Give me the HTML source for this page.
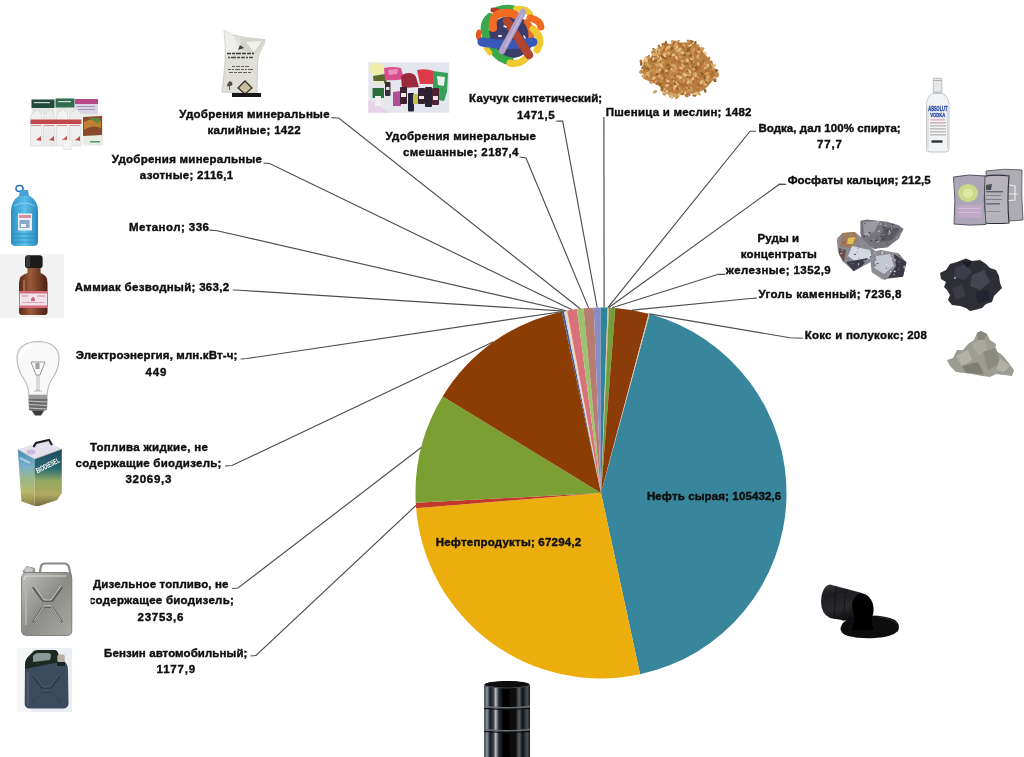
<!DOCTYPE html>
<html><head><meta charset="utf-8"><style>
html,body{margin:0;padding:0;background:#fff;width:1024px;height:757px;overflow:hidden}
svg{display:block}
text{font-family:"Liberation Sans",sans-serif;font-weight:bold;font-size:11.5px;fill:#0e0e0e;stroke:#0e0e0e;stroke-width:0.4px}
</style></head><body>
<svg width="1024" height="757" viewBox="0 0 1024 757">
<defs><filter id="tnone" x="0" y="0" width="1" height="1"><feOffset dx="0" dy="0"/></filter></defs>
<rect width="1024" height="757" fill="#fff"/>
<g><path d="M601.0,493.0 L649.64,313.99 A185.5,185.5 0 0 1 640.04,674.35 Z" fill="#37869C"/><path d="M601.0,493.0 L640.04,674.35 A185.5,185.5 0 0 1 416.13,508.25 Z" fill="#ECAE0C"/><path d="M601.0,493.0 L416.13,508.25 A185.5,185.5 0 0 1 415.76,502.74 Z" fill="#C0392B"/><path d="M601.0,493.0 L415.76,502.74 A185.5,185.5 0 0 1 442.64,396.40 Z" fill="#7B9F32"/><path d="M601.0,493.0 L442.64,396.40 A185.5,185.5 0 0 1 561.84,311.68 Z" fill="#8B3D03"/><path d="M601.0,493.0 L561.84,311.68 A185.5,185.5 0 0 1 563.90,311.25 Z" fill="#4A5A8A"/><path d="M601.0,493.0 L563.90,311.25 A185.5,185.5 0 0 1 565.57,310.91 Z" fill="#C8D4E0"/><path d="M601.0,493.0 L565.57,310.91 A185.5,185.5 0 0 1 567.12,310.62 Z" fill="#F4D6A8"/><path d="M601.0,493.0 L567.12,310.62 A185.5,185.5 0 0 1 576.92,309.07 Z" fill="#D9707A"/><path d="M601.0,493.0 L576.92,309.07 A185.5,185.5 0 0 1 583.54,308.32 Z" fill="#9BC26F"/><path d="M601.0,493.0 L583.54,308.32 A185.5,185.5 0 0 1 593.77,307.64 Z" fill="#B97C70"/><path d="M601.0,493.0 L593.77,307.64 A185.5,185.5 0 0 1 600.66,307.50 Z" fill="#8A8CC4"/><path d="M601.0,493.0 L600.66,307.50 A185.5,185.5 0 0 1 607.61,307.62 Z" fill="#2E8599"/><path d="M601.0,493.0 L607.61,307.62 A185.5,185.5 0 0 1 607.97,307.63 Z" fill="#E8A860"/><path d="M601.0,493.0 L607.97,307.63 A185.5,185.5 0 0 1 608.97,307.67 Z" fill="#D8B0A0"/><path d="M601.0,493.0 L608.97,307.67 A185.5,185.5 0 0 1 615.30,308.05 Z" fill="#749E3C"/><path d="M601.0,493.0 L615.30,308.05 A185.5,185.5 0 0 1 648.69,313.74 Z" fill="#8B3C08"/><path d="M601.0,493.0 L648.69,313.74 A185.5,185.5 0 0 1 649.64,313.99 Z" fill="#D0C0B0"/></g>
<g fill="none" stroke="#4e4e4e" stroke-width="1.15"><polyline points="331.5,117.6 338.7,118.0 580.2,308.7"/><polyline points="263.5,163.0 269.6,163.5 572.0,309.8"/><polyline points="209.4,230.1 216.0,230.5 566.3,310.8"/><polyline points="232.8,290.0 240.0,290.3 564.7,311.1"/><polyline points="240.6,359.0 247.0,358.5 562.9,311.5"/><polyline points="225.0,466.0 232.0,465.5 493.5,341.8"/><polyline points="232.0,588.5 238.0,588.0 421.2,447.5"/><polyline points="250.4,656.0 256.0,655.5 415.9,505.5"/><polyline points="519.4,157.0 526.0,158.0 588.6,307.9"/><polyline points="556.3,121.1 562.7,121.1 597.2,307.5"/><polyline points="603.9,117.0 604.1,307.5"/><polyline points="756.0,131.2 750.0,131.2 607.8,307.6"/><polyline points="786.1,184.4 779.5,184.2 608.5,307.7"/><polyline points="724.9,274.3 718.3,274.3 612.1,307.8"/><polyline points="756.9,298.1 750.5,298.5 632.1,310.1"/><polyline points="802.9,338.2 790.0,337.7 649.2,313.9"/></g>
<g style="will-change:transform" filter="url(#tnone)"><text x="179.3" y="117.8" textLength="150.3" lengthAdjust="spacing">Удобрения минеральные</text><text x="207.5" y="134.0" textLength="93.1" lengthAdjust="spacing">калийные; 1422</text><text x="111.8" y="163.0" textLength="150.2" lengthAdjust="spacing">Удобрения минеральные</text><text x="139.8" y="179.1" textLength="93.4" lengthAdjust="spacing">азотные; 2116,1</text><text x="129.0" y="231.2" textLength="79.9" lengthAdjust="spacing">Метанол; 336</text><text x="74.7" y="291.2" textLength="154.5" lengthAdjust="spacing">Аммиак безводный; 363,2</text><text x="75.8" y="359.4" textLength="161.5" lengthAdjust="spacing">Электроэнергия, млн.кВт-ч;</text><text x="145.5" y="375.6" textLength="21.0" lengthAdjust="spacing">449</text><text x="89.9" y="450.6" textLength="118.0" lengthAdjust="spacing">Топлива жидкие, не</text><text x="75.5" y="466.8" textLength="145.9" lengthAdjust="spacing">содержащие биодизель;</text><text x="125.5" y="483.0" textLength="45.8" lengthAdjust="spacing">32069,3</text><text x="92.9" y="588.4" textLength="135.6" lengthAdjust="spacing">Дизельное топливо, не</text><text x="88.9" y="604.4" textLength="144.9" lengthAdjust="spacing">содержащее биодизель;</text><text x="137.6" y="620.6" textLength="45.8" lengthAdjust="spacing">23753,6</text><text x="104.1" y="656.7" textLength="143.3" lengthAdjust="spacing">Бензин автомобильный;</text><text x="156.6" y="672.9" textLength="38.6" lengthAdjust="spacing">1177,9</text><text x="385.4" y="140.4" textLength="150.4" lengthAdjust="spacing">Удобрения минеральные</text><text x="402.9" y="156.4" textLength="115.5" lengthAdjust="spacing">смешанные; 2187,4</text><text x="469.1" y="102.3" textLength="133.1" lengthAdjust="spacing">Каучук синтетический;</text><text x="516.9" y="118.6" textLength="37.7" lengthAdjust="spacing">1471,5</text><text x="605.7" y="116.4" textLength="145.8" lengthAdjust="spacing">Пшеница и меслин; 1482</text><text x="758.4" y="131.5" textLength="142.3" lengthAdjust="spacing">Водка, дал 100% спирта;</text><text x="816.9" y="147.7" textLength="25.1" lengthAdjust="spacing">77,7</text><text x="787.7" y="184.2" textLength="143.0" lengthAdjust="spacing">Фосфаты кальция; 212,5</text><text x="757.5" y="241.7" textLength="41.7" lengthAdjust="spacing">Руды и</text><text x="740.7" y="257.7" textLength="76.2" lengthAdjust="spacing">концентраты</text><text x="725.8" y="274.2" textLength="104.9" lengthAdjust="spacing">железные; 1352,9</text><text x="758.5" y="298.3" textLength="142.9" lengthAdjust="spacing">Уголь каменный; 7236,8</text><text x="804.7" y="338.7" textLength="122.2" lengthAdjust="spacing">Кокс и полукокс; 208</text><text x="646.9" y="499.6" textLength="134.3" lengthAdjust="spacing" fill="#0c1620">Нефть сырая; 105432,6</text><text x="435.7" y="545.7" textLength="145.5" lengthAdjust="spacing" fill="#1c1004">Нефтепродукты; 67294,2</text></g>
<defs>
<filter id="blur1" x="-10%" y="-10%" width="120%" height="120%"><feGaussianBlur stdDeviation="0.55"/></filter>
<linearGradient id="gBottleW" x1="0" x2="1"><stop offset="0" stop-color="#c8c8c8"/><stop offset="0.35" stop-color="#f4f4f4"/><stop offset="1" stop-color="#d0d0d0"/></linearGradient>
<linearGradient id="gBarrel" x1="0" x2="1"><stop offset="0" stop-color="#2a3038"/><stop offset="0.06" stop-color="#8a98a8"/><stop offset="0.13" stop-color="#1a1c1e"/><stop offset="0.2" stop-color="#3a4046"/><stop offset="0.25" stop-color="#b8c0c8"/><stop offset="0.32" stop-color="#2a2e32"/><stop offset="0.42" stop-color="#050505"/><stop offset="0.68" stop-color="#080808"/><stop offset="0.76" stop-color="#5a6068"/><stop offset="0.84" stop-color="#101214"/><stop offset="0.94" stop-color="#4a5058"/><stop offset="1" stop-color="#1a1a1a"/></linearGradient>
<linearGradient id="gSteel" x1="0" x2="1" y1="0" y2="1"><stop offset="0" stop-color="#c0c0bc"/><stop offset="0.5" stop-color="#8c8c88"/><stop offset="1" stop-color="#a8a8a4"/></linearGradient>
<linearGradient id="gBio" x1="0" x2="0" y1="0" y2="1"><stop offset="0" stop-color="#2f6f8f"/><stop offset="0.45" stop-color="#5a9aa8"/><stop offset="0.7" stop-color="#a8a860"/><stop offset="1" stop-color="#807040"/></linearGradient>
<radialGradient id="gWheat" cx="0.5" cy="0.5" r="0.5"><stop offset="0" stop-color="#a8722e"/><stop offset="0.7" stop-color="#c08a44"/><stop offset="1" stop-color="#d4a060"/></radialGradient>
<linearGradient id="gBlue" x1="0" x2="1"><stop offset="0" stop-color="#2a90c8"/><stop offset="0.5" stop-color="#5cc0e8"/><stop offset="1" stop-color="#2888c0"/></linearGradient>
<linearGradient id="gAmm" x1="0" x2="1"><stop offset="0" stop-color="#5a2a18"/><stop offset="0.4" stop-color="#9a5a38"/><stop offset="1" stop-color="#4a2010"/></linearGradient>
</defs>

<!-- 1 fertilizer bottles (азотные) -->
<g id="img-fert" filter="url(#blur1)">
<rect x="31.5" y="99.5" width="23" height="15" fill="#e4e6e4"/>
<rect x="31.5" y="99.5" width="23" height="8.5" fill="#244c3c"/>
<rect x="34" y="102" width="16" height="1.2" fill="#c8d0c8"/>
<rect x="55.5" y="98.5" width="19" height="16" fill="#e8eae8"/>
<rect x="55.5" y="98.5" width="19" height="9" fill="#2f6c50"/>
<rect x="58" y="101" width="13" height="1.2" fill="#d0dcd0"/>
<rect x="75" y="99" width="23" height="15" fill="#dcd4e4"/>
<rect x="75" y="99" width="23" height="5" fill="#b84a88"/>
<rect x="77" y="106" width="18" height="1" fill="#9a9ab8"/>
<rect x="77" y="109" width="18" height="1" fill="#9a9ab8"/>
<path d="M30.5,146 L30.5,118 Q30.5,113 35,112 L35,110 L39,110 L39,112 Q42,113 42,118 L42,146 Z" fill="#f0f0f0" stroke="#c8c8c8" stroke-width="0.5"/>
<path d="M43.5,146 L43.5,118 Q43.5,113 48,112 L48,110 L52,110 L52,112 Q55,113 55,118 L55,146 Z" fill="#ececec" stroke="#c8c8c8" stroke-width="0.5"/>
<path d="M56.5,146 L56.5,117 Q56.5,112 61,111 L61,109 L65,109 L65,111 Q68,112 68,117 L68,146 Z" fill="#f2f2f2" stroke="#c8c8c8" stroke-width="0.5"/>
<path d="M69.5,146 L69.5,117 Q69.5,112 74,111 L74,109 L78,109 L78,111 Q81,112 81,117 L81,146 Z" fill="#eeeeee" stroke="#c8c8c8" stroke-width="0.5"/>
<rect x="30.5" y="119.5" width="51" height="4.5" fill="#c04850"/>
<rect x="31" y="125" width="10" height="1" fill="#d89090"/>
<rect x="44" y="125" width="10" height="1" fill="#d89090"/>
<rect x="57" y="125" width="10" height="1" fill="#d89090"/>
<rect x="70" y="125" width="10" height="1" fill="#d89090"/>
<path d="M36,140 L41,136 L41,141 Z M49,140 L54,136 L54,141 Z M62,140 L67,136 L67,141 Z M75,140 L80,136 L80,141 Z" fill="#c05050"/>
<path d="M62.5,140 L72.5,140 L71.5,149.5 L63.5,149.5 Z" fill="#f4f4f4" stroke="#d8d8d8" stroke-width="0.5"/>
<rect x="82.5" y="114" width="20.5" height="31.5" fill="#e8ece4"/>
<path d="M83,117 L102,116 L102,135 L83,136 Z" fill="#8a4a2a"/>
<path d="M84,122 Q92,117 101,121 L101,128 Q92,124 84,130 Z" fill="#c08030"/>
<path d="M88,118 L100,118 L99,124 Z" fill="#5a8a3a"/>
<rect x="90" y="141" width="10" height="1.5" fill="#4a9a6a"/>
</g>
<!-- 2 sack калийные -->
<g id="img-sack" filter="url(#blur1)">
<path d="M224,30 Q229,33 233,35 Q246,38 265,39.6 Q265,44 260,51.7 Q257,58 257.5,70 L257,92.5 Q240,93.5 222,92 Q224,75 225,62 Q226,45 224,30 Z" fill="#e0e0d8" stroke="#b8b8b0" stroke-width="0.6"/>
<path d="M224,30 Q229,33 233,35 L240,50 Q232,52 226,55 Q226,42 224,30 Z" fill="#eeeeea"/>
<path d="M240,38 Q252,38.5 265,39.6 Q262,46 256,54 Q248,52 242,50 Z" fill="#d4d4cc"/>
<path d="M246,42 L262,41 L254,52 Z" fill="#f0f0ec"/>
<path d="M240,45 L244,48 L238,50 Z" fill="#404040"/>
<path d="M227,53.5 L254,53.5" stroke="#3a3a3a" stroke-width="1.6" stroke-dasharray="4 1 3 1 5 1 4 1"/>
<path d="M228,57.5 L253,57.5" stroke="#4a4a4a" stroke-width="1.4" stroke-dasharray="2 1 5 1 3 1 4 1"/>
<path d="M232,66.5 L250,66.5" stroke="#606060" stroke-width="1" stroke-dasharray="3 1 4 1"/>
<path d="M228,69.5 L253,69.5" stroke="#606060" stroke-width="1" stroke-dasharray="3 1 2 1 5 1"/>
<path d="M229,72.5 L252,72.5" stroke="#606060" stroke-width="1" stroke-dasharray="4 1 3 1 4 1"/>
<path d="M227.5,86 Q228,82 230,81.5 Q232.5,82 232,85 Z M229.5,85 L229.5,90" stroke="#404040" stroke-width="0.8" fill="#505050"/>
<path d="M238,88 L245,81 L252,88 L245,94 Z" fill="#c8c0a0" stroke="#3a3020" stroke-width="1.3"/>
<rect x="232" y="93" width="29" height="4" fill="#141414"/>
</g>
<!-- 3 mixed fertilizers photo -->
<g id="img-mixed" filter="url(#blur1)">
<rect x="368.3" y="62.3" width="81" height="50.5" fill="#e4e6ee"/>
<path d="M368.3,100 Q378,104 390,112.8 L368.3,112.8 Z" fill="#e8d4e8"/>
<ellipse cx="377" cy="69" rx="8" ry="6" fill="#eeeea8"/>
<path d="M373,76 L385,74 L387,83 L374,85 Z" fill="#5a6a2a"/>
<rect x="373" y="81" width="11" height="4" fill="#e8e8d0"/>
<rect x="372.5" y="88" width="11.5" height="10" fill="#2c6e3c"/>
<path d="M384,68 Q392,66 401,68 L404,79 Q394,81 385,80 Z" fill="#d8508e"/>
<path d="M388,70 L398,69 L397,74 L389,75 Z" fill="#e890b8"/>
<path d="M393,92 L401,91 L401,106 L393,106 Z" fill="#b05098"/>
<path d="M401,77 Q403,73 409,73 Q414,73 416,77 L419,87 L402,88 Z" fill="#9a2a3a"/>
<path d="M417,70 Q425,68 434,71 L434,84 L420,84 Z" fill="#dc3a48"/>
<path d="M433,71 L448,73 L447,92 L444,101 L433,99 Z" fill="#34a058"/>
<path d="M437,76 L445,77 L444,86 L438,85 Z" fill="#e8f0e8"/>
<rect x="385" y="82" width="5.5" height="14" rx="1" fill="#3a2a34"/>
<rect x="386" y="87" width="3.5" height="3" fill="#e8e0e0"/>
<rect x="375" y="96" width="6" height="10" fill="#f0f0f0"/>
<rect x="382" y="98" width="8" height="10" fill="#e8e8ea"/>
<rect x="400" y="87" width="7" height="17" rx="1" fill="#3a2030"/>
<rect x="401" y="93" width="5" height="4" fill="#f0e8e8"/>
<rect x="408" y="93" width="6" height="18.5" rx="1" fill="#22243a"/>
<rect x="413" y="94" width="6" height="10" rx="1" fill="#c8c048"/>
<rect x="418" y="88" width="7" height="16" rx="1" fill="#302030"/>
<rect x="419" y="96" width="5" height="3" fill="#ecece8"/>
<rect x="425" y="87" width="7" height="20" rx="1" fill="#2a2030"/>
<rect x="432" y="88" width="7" height="17" rx="1" fill="#502030"/>
<rect x="433" y="96" width="5" height="4" fill="#f0e0e8"/>
</g>
<!-- 4 rubber ball -->
<g id="img-ball" stroke-linecap="round" fill="none" filter="url(#blur1)">
<ellipse cx="511" cy="37" rx="23" ry="21" fill="#3a3e6a"/>
<path d="M527,22 Q533,30 531,40" stroke="#e86a28" stroke-width="6"/>
<path d="M497,9 Q506,6 514,8" stroke="#38a848" stroke-width="5"/>
<path d="M516,9 Q526,8 530,14" stroke="#f0c830" stroke-width="6"/>
<path d="M493,10 L498,11" stroke="#b03a28" stroke-width="5"/>
<path d="M486,36 Q482,24 490,17" stroke="#38a848" stroke-width="8"/>
<path d="M479,32 Q477,36 481,41" stroke="#e65a20" stroke-width="5"/>
<path d="M493,28 Q491,14 503,13 Q512,12 518,17" stroke="#f06a24" stroke-width="8"/>
<path d="M530,18 Q540,20 541,27" stroke="#f06a24" stroke-width="7"/>
<path d="M493,50 Q500,60 510,61" stroke="#38a848" stroke-width="8"/>
<path d="M486,48 L490,53" stroke="#f0c830" stroke-width="5"/>
<path d="M510,63 Q520,65 526,58" stroke="#f0c830" stroke-width="7"/>
<path d="M533,29 Q544,38 537,50" stroke="#f0c830" stroke-width="7"/>
<path d="M482,42 Q508,47 533,42" stroke="#3858b8" stroke-width="9"/>
<path d="M507,21 L529,55" stroke="#b04430" stroke-width="8.5"/>
<path d="M523,12 L502,51" stroke="#b0a0cc" stroke-width="6.5"/>
<path d="M522,15 L505,47" stroke="#c8bce0" stroke-width="1.2"/>
<path d="M504,26 L506,27" stroke="#f4f4f4" stroke-width="1.5"/>
<path d="M499,36 L501,36" stroke="#f4f4f4" stroke-width="2"/>
<path d="M524,36 L525,38" stroke="#f4f4f4" stroke-width="1.5"/>
</g>
<!-- 5 wheat -->
<g id="img-wheat" filter="url(#blur1)"><path d="M662.3,45.4 L675.8,42.8 L689.3,42.3 L698.2,45.4 L703.6,52.6 L709.8,59.8 L713.5,66.9 L715.7,75.0 L713.5,79.5 L709.0,84.9 L703.6,90.3 L693.7,93.8 L680.3,94.7 L673.1,97.4 L665.0,93.0 L657.9,84.9 L645.3,79.5 L642.6,72.3 L643.5,61.5 L651.6,57.1 L656.1,50.8 Z" fill="#b88040"/><ellipse cx="664.6" cy="48.2" rx="2.1" ry="1.25" fill="#dcae6c" transform="rotate(13 664.6 48.2)"/><ellipse cx="681.9" cy="61.3" rx="2.1" ry="1.25" fill="#dcae6c" transform="rotate(164 681.9 61.3)"/><ellipse cx="672.3" cy="53.7" rx="2.1" ry="1.25" fill="#c08848" transform="rotate(11 672.3 53.7)"/><ellipse cx="689.7" cy="74.6" rx="2.1" ry="1.25" fill="#dcae6c" transform="rotate(104 689.7 74.6)"/><ellipse cx="661.7" cy="47.8" rx="2.1" ry="1.25" fill="#cc9a58" transform="rotate(103 661.7 47.8)"/><ellipse cx="683.9" cy="80.6" rx="2.1" ry="1.25" fill="#cc9a58" transform="rotate(105 683.9 80.6)"/><ellipse cx="690.4" cy="61.7" rx="2.1" ry="1.25" fill="#cc9a58" transform="rotate(102 690.4 61.7)"/><ellipse cx="688.8" cy="69.3" rx="2.1" ry="1.25" fill="#c08848" transform="rotate(140 688.8 69.3)"/><ellipse cx="676.2" cy="95.3" rx="2.1" ry="1.25" fill="#d4a460" transform="rotate(54 676.2 95.3)"/><ellipse cx="703.1" cy="81.6" rx="2.1" ry="1.25" fill="#e6c088" transform="rotate(15 703.1 81.6)"/><ellipse cx="662.6" cy="69.2" rx="2.1" ry="1.25" fill="#d4a460" transform="rotate(131 662.6 69.2)"/><ellipse cx="647.7" cy="64.5" rx="2.1" ry="1.25" fill="#d4a460" transform="rotate(27 647.7 64.5)"/><ellipse cx="678.1" cy="41.4" rx="2.1" ry="1.25" fill="#cc9a58" transform="rotate(138 678.1 41.4)"/><ellipse cx="685.0" cy="92.4" rx="2.1" ry="1.25" fill="#d4a460" transform="rotate(61 685.0 92.4)"/><ellipse cx="666.7" cy="69.3" rx="2.1" ry="1.25" fill="#b86a38" transform="rotate(12 666.7 69.3)"/><ellipse cx="695.2" cy="43.0" rx="2.1" ry="1.25" fill="#946028" transform="rotate(116 695.2 43.0)"/><ellipse cx="661.3" cy="62.5" rx="2.1" ry="1.25" fill="#d4a460" transform="rotate(4 661.3 62.5)"/><ellipse cx="675.9" cy="49.3" rx="2.1" ry="1.25" fill="#cc9a58" transform="rotate(89 675.9 49.3)"/><ellipse cx="655.9" cy="56.5" rx="2.1" ry="1.25" fill="#e6c088" transform="rotate(72 655.9 56.5)"/><ellipse cx="713.2" cy="69.3" rx="2.1" ry="1.25" fill="#a87038" transform="rotate(81 713.2 69.3)"/><ellipse cx="683.1" cy="92.9" rx="2.1" ry="1.25" fill="#c08848" transform="rotate(156 683.1 92.9)"/><ellipse cx="660.8" cy="64.3" rx="2.1" ry="1.25" fill="#d4a460" transform="rotate(123 660.8 64.3)"/><ellipse cx="669.2" cy="53.1" rx="2.1" ry="1.25" fill="#cc9a58" transform="rotate(32 669.2 53.1)"/><ellipse cx="657.0" cy="53.2" rx="2.1" ry="1.25" fill="#b86a38" transform="rotate(150 657.0 53.2)"/><ellipse cx="653.0" cy="56.2" rx="2.1" ry="1.25" fill="#a87038" transform="rotate(75 653.0 56.2)"/><ellipse cx="668.3" cy="73.5" rx="2.1" ry="1.25" fill="#a87038" transform="rotate(124 668.3 73.5)"/><ellipse cx="680.3" cy="76.7" rx="2.1" ry="1.25" fill="#dcae6c" transform="rotate(82 680.3 76.7)"/><ellipse cx="693.8" cy="73.1" rx="2.1" ry="1.25" fill="#c08848" transform="rotate(72 693.8 73.1)"/><ellipse cx="646.5" cy="77.7" rx="2.1" ry="1.25" fill="#dcae6c" transform="rotate(34 646.5 77.7)"/><ellipse cx="647.0" cy="75.6" rx="2.1" ry="1.25" fill="#cc9a58" transform="rotate(0 647.0 75.6)"/><ellipse cx="709.7" cy="76.5" rx="2.1" ry="1.25" fill="#a87038" transform="rotate(114 709.7 76.5)"/><ellipse cx="716.3" cy="75.7" rx="2.1" ry="1.25" fill="#b86a38" transform="rotate(22 716.3 75.7)"/><ellipse cx="676.2" cy="68.5" rx="2.1" ry="1.25" fill="#cc9a58" transform="rotate(26 676.2 68.5)"/><ellipse cx="699.5" cy="84.2" rx="2.1" ry="1.25" fill="#b86a38" transform="rotate(149 699.5 84.2)"/><ellipse cx="716.0" cy="71.2" rx="2.1" ry="1.25" fill="#a87038" transform="rotate(124 716.0 71.2)"/><ellipse cx="662.4" cy="78.2" rx="2.1" ry="1.25" fill="#cc9a58" transform="rotate(125 662.4 78.2)"/><ellipse cx="659.4" cy="61.4" rx="2.1" ry="1.25" fill="#a87038" transform="rotate(64 659.4 61.4)"/><ellipse cx="656.3" cy="72.0" rx="2.1" ry="1.25" fill="#d4a460" transform="rotate(115 656.3 72.0)"/><ellipse cx="688.3" cy="87.1" rx="2.1" ry="1.25" fill="#e6c088" transform="rotate(145 688.3 87.1)"/><ellipse cx="705.1" cy="84.1" rx="2.1" ry="1.25" fill="#e6c088" transform="rotate(36 705.1 84.1)"/><ellipse cx="678.4" cy="83.6" rx="2.1" ry="1.25" fill="#dcae6c" transform="rotate(142 678.4 83.6)"/><ellipse cx="676.7" cy="50.8" rx="2.1" ry="1.25" fill="#d4a460" transform="rotate(81 676.7 50.8)"/><ellipse cx="656.1" cy="52.8" rx="2.1" ry="1.25" fill="#e6c088" transform="rotate(61 656.1 52.8)"/><ellipse cx="690.7" cy="89.9" rx="2.1" ry="1.25" fill="#cc9a58" transform="rotate(164 690.7 89.9)"/><ellipse cx="702.1" cy="84.8" rx="2.1" ry="1.25" fill="#b86a38" transform="rotate(160 702.1 84.8)"/><ellipse cx="673.6" cy="77.8" rx="2.1" ry="1.25" fill="#cc9a58" transform="rotate(144 673.6 77.8)"/><ellipse cx="670.9" cy="96.8" rx="2.1" ry="1.25" fill="#a87038" transform="rotate(31 670.9 96.8)"/><ellipse cx="666.7" cy="72.5" rx="2.1" ry="1.25" fill="#a87038" transform="rotate(4 666.7 72.5)"/><ellipse cx="703.5" cy="83.3" rx="2.1" ry="1.25" fill="#cc9a58" transform="rotate(95 703.5 83.3)"/><ellipse cx="714.6" cy="65.5" rx="2.1" ry="1.25" fill="#e6c088" transform="rotate(149 714.6 65.5)"/><ellipse cx="655.3" cy="54.4" rx="2.1" ry="1.25" fill="#946028" transform="rotate(90 655.3 54.4)"/><ellipse cx="700.6" cy="58.9" rx="2.1" ry="1.25" fill="#c08848" transform="rotate(150 700.6 58.9)"/><ellipse cx="711.6" cy="79.4" rx="2.1" ry="1.25" fill="#c08848" transform="rotate(149 711.6 79.4)"/><ellipse cx="650.5" cy="70.1" rx="2.1" ry="1.25" fill="#b86a38" transform="rotate(140 650.5 70.1)"/><ellipse cx="687.9" cy="86.3" rx="2.1" ry="1.25" fill="#a87038" transform="rotate(31 687.9 86.3)"/><ellipse cx="676.8" cy="83.2" rx="2.1" ry="1.25" fill="#dcae6c" transform="rotate(59 676.8 83.2)"/><ellipse cx="680.5" cy="72.9" rx="2.1" ry="1.25" fill="#cc9a58" transform="rotate(159 680.5 72.9)"/><ellipse cx="687.7" cy="51.2" rx="2.1" ry="1.25" fill="#946028" transform="rotate(81 687.7 51.2)"/><ellipse cx="681.7" cy="68.2" rx="2.1" ry="1.25" fill="#e6c088" transform="rotate(126 681.7 68.2)"/><ellipse cx="659.3" cy="73.1" rx="2.1" ry="1.25" fill="#e6c088" transform="rotate(151 659.3 73.1)"/><ellipse cx="674.3" cy="43.4" rx="2.1" ry="1.25" fill="#e6c088" transform="rotate(77 674.3 43.4)"/><ellipse cx="655.4" cy="57.5" rx="2.1" ry="1.25" fill="#cc9a58" transform="rotate(161 655.4 57.5)"/><ellipse cx="650.7" cy="82.7" rx="2.1" ry="1.25" fill="#d4a460" transform="rotate(26 650.7 82.7)"/><ellipse cx="670.7" cy="68.7" rx="2.1" ry="1.25" fill="#e6c088" transform="rotate(29 670.7 68.7)"/><ellipse cx="673.4" cy="70.5" rx="2.1" ry="1.25" fill="#d4a460" transform="rotate(76 673.4 70.5)"/><ellipse cx="667.2" cy="44.6" rx="2.1" ry="1.25" fill="#d4a460" transform="rotate(4 667.2 44.6)"/><ellipse cx="683.4" cy="65.9" rx="2.1" ry="1.25" fill="#dcae6c" transform="rotate(69 683.4 65.9)"/><ellipse cx="680.4" cy="57.0" rx="2.1" ry="1.25" fill="#cc9a58" transform="rotate(20 680.4 57.0)"/><ellipse cx="705.2" cy="90.8" rx="2.1" ry="1.25" fill="#946028" transform="rotate(73 705.2 90.8)"/><ellipse cx="682.0" cy="70.4" rx="2.1" ry="1.25" fill="#b86a38" transform="rotate(126 682.0 70.4)"/><ellipse cx="694.4" cy="64.9" rx="2.1" ry="1.25" fill="#cc9a58" transform="rotate(48 694.4 64.9)"/><ellipse cx="659.4" cy="76.1" rx="2.1" ry="1.25" fill="#e6c088" transform="rotate(12 659.4 76.1)"/><ellipse cx="708.7" cy="66.7" rx="2.1" ry="1.25" fill="#d4a460" transform="rotate(179 708.7 66.7)"/><ellipse cx="672.3" cy="94.8" rx="2.1" ry="1.25" fill="#a87038" transform="rotate(8 672.3 94.8)"/><ellipse cx="689.6" cy="71.4" rx="2.1" ry="1.25" fill="#e6c088" transform="rotate(52 689.6 71.4)"/><ellipse cx="679.0" cy="49.9" rx="2.1" ry="1.25" fill="#d4a460" transform="rotate(145 679.0 49.9)"/><ellipse cx="658.1" cy="66.3" rx="2.1" ry="1.25" fill="#c08848" transform="rotate(118 658.1 66.3)"/><ellipse cx="682.8" cy="93.2" rx="2.1" ry="1.25" fill="#946028" transform="rotate(124 682.8 93.2)"/><ellipse cx="706.2" cy="82.1" rx="2.1" ry="1.25" fill="#a87038" transform="rotate(73 706.2 82.1)"/><ellipse cx="698.8" cy="54.6" rx="2.1" ry="1.25" fill="#a87038" transform="rotate(10 698.8 54.6)"/><ellipse cx="692.5" cy="62.2" rx="2.1" ry="1.25" fill="#946028" transform="rotate(108 692.5 62.2)"/><ellipse cx="653.2" cy="55.4" rx="2.1" ry="1.25" fill="#dcae6c" transform="rotate(47 653.2 55.4)"/><ellipse cx="682.9" cy="53.9" rx="2.1" ry="1.25" fill="#946028" transform="rotate(39 682.9 53.9)"/><ellipse cx="653.0" cy="59.5" rx="2.1" ry="1.25" fill="#cc9a58" transform="rotate(85 653.0 59.5)"/><ellipse cx="679.2" cy="51.3" rx="2.1" ry="1.25" fill="#dcae6c" transform="rotate(16 679.2 51.3)"/><ellipse cx="686.1" cy="63.0" rx="2.1" ry="1.25" fill="#946028" transform="rotate(55 686.1 63.0)"/><ellipse cx="657.1" cy="74.7" rx="2.1" ry="1.25" fill="#a87038" transform="rotate(118 657.1 74.7)"/><ellipse cx="696.7" cy="92.6" rx="2.1" ry="1.25" fill="#c08848" transform="rotate(138 696.7 92.6)"/><ellipse cx="697.1" cy="69.1" rx="2.1" ry="1.25" fill="#946028" transform="rotate(130 697.1 69.1)"/><ellipse cx="690.7" cy="41.7" rx="2.1" ry="1.25" fill="#c08848" transform="rotate(132 690.7 41.7)"/><ellipse cx="680.9" cy="69.8" rx="2.1" ry="1.25" fill="#dcae6c" transform="rotate(149 680.9 69.8)"/><ellipse cx="685.9" cy="93.5" rx="2.1" ry="1.25" fill="#e6c088" transform="rotate(15 685.9 93.5)"/><ellipse cx="675.0" cy="42.1" rx="2.1" ry="1.25" fill="#dcae6c" transform="rotate(113 675.0 42.1)"/><ellipse cx="693.8" cy="68.8" rx="2.1" ry="1.25" fill="#dcae6c" transform="rotate(82 693.8 68.8)"/><ellipse cx="681.1" cy="84.5" rx="2.1" ry="1.25" fill="#b86a38" transform="rotate(45 681.1 84.5)"/><ellipse cx="697.8" cy="51.5" rx="2.1" ry="1.25" fill="#b86a38" transform="rotate(89 697.8 51.5)"/><ellipse cx="669.4" cy="68.2" rx="2.1" ry="1.25" fill="#946028" transform="rotate(138 669.4 68.2)"/><ellipse cx="688.6" cy="78.2" rx="2.1" ry="1.25" fill="#cc9a58" transform="rotate(108 688.6 78.2)"/><ellipse cx="665.2" cy="78.7" rx="2.1" ry="1.25" fill="#946028" transform="rotate(112 665.2 78.7)"/><ellipse cx="648.9" cy="68.4" rx="2.1" ry="1.25" fill="#b86a38" transform="rotate(48 648.9 68.4)"/><ellipse cx="693.1" cy="81.2" rx="2.1" ry="1.25" fill="#b86a38" transform="rotate(52 693.1 81.2)"/><ellipse cx="680.4" cy="67.3" rx="2.1" ry="1.25" fill="#b86a38" transform="rotate(138 680.4 67.3)"/><ellipse cx="663.6" cy="44.2" rx="2.1" ry="1.25" fill="#b86a38" transform="rotate(3 663.6 44.2)"/><ellipse cx="675.6" cy="89.0" rx="2.1" ry="1.25" fill="#b86a38" transform="rotate(179 675.6 89.0)"/><ellipse cx="669.7" cy="94.9" rx="2.1" ry="1.25" fill="#e6c088" transform="rotate(13 669.7 94.9)"/><ellipse cx="659.5" cy="60.9" rx="2.1" ry="1.25" fill="#946028" transform="rotate(160 659.5 60.9)"/><ellipse cx="695.7" cy="53.1" rx="2.1" ry="1.25" fill="#b86a38" transform="rotate(71 695.7 53.1)"/><ellipse cx="693.9" cy="63.7" rx="2.1" ry="1.25" fill="#a87038" transform="rotate(75 693.9 63.7)"/><ellipse cx="668.8" cy="46.4" rx="2.1" ry="1.25" fill="#d4a460" transform="rotate(0 668.8 46.4)"/><ellipse cx="699.6" cy="90.2" rx="2.1" ry="1.25" fill="#cc9a58" transform="rotate(169 699.6 90.2)"/><ellipse cx="698.7" cy="54.4" rx="2.1" ry="1.25" fill="#cc9a58" transform="rotate(71 698.7 54.4)"/><ellipse cx="667.6" cy="65.1" rx="2.1" ry="1.25" fill="#946028" transform="rotate(154 667.6 65.1)"/><ellipse cx="692.3" cy="77.7" rx="2.1" ry="1.25" fill="#a87038" transform="rotate(45 692.3 77.7)"/><ellipse cx="659.8" cy="70.2" rx="2.1" ry="1.25" fill="#e6c088" transform="rotate(139 659.8 70.2)"/><ellipse cx="702.4" cy="65.1" rx="2.1" ry="1.25" fill="#dcae6c" transform="rotate(146 702.4 65.1)"/><ellipse cx="689.7" cy="94.7" rx="2.1" ry="1.25" fill="#e6c088" transform="rotate(130 689.7 94.7)"/><ellipse cx="675.0" cy="84.9" rx="2.1" ry="1.25" fill="#946028" transform="rotate(87 675.0 84.9)"/><ellipse cx="712.8" cy="72.6" rx="2.1" ry="1.25" fill="#a87038" transform="rotate(85 712.8 72.6)"/><ellipse cx="666.2" cy="57.2" rx="2.1" ry="1.25" fill="#946028" transform="rotate(73 666.2 57.2)"/><ellipse cx="657.6" cy="68.5" rx="2.1" ry="1.25" fill="#c08848" transform="rotate(22 657.6 68.5)"/><ellipse cx="690.7" cy="43.6" rx="2.1" ry="1.25" fill="#b86a38" transform="rotate(99 690.7 43.6)"/><ellipse cx="675.1" cy="59.3" rx="2.1" ry="1.25" fill="#b86a38" transform="rotate(77 675.1 59.3)"/><ellipse cx="682.9" cy="53.9" rx="2.1" ry="1.25" fill="#a87038" transform="rotate(62 682.9 53.9)"/><ellipse cx="659.2" cy="73.7" rx="2.1" ry="1.25" fill="#dcae6c" transform="rotate(135 659.2 73.7)"/><ellipse cx="671.8" cy="64.2" rx="2.1" ry="1.25" fill="#e6c088" transform="rotate(68 671.8 64.2)"/><ellipse cx="665.7" cy="42.8" rx="2.1" ry="1.25" fill="#946028" transform="rotate(103 665.7 42.8)"/><ellipse cx="667.5" cy="80.9" rx="2.1" ry="1.25" fill="#e6c088" transform="rotate(17 667.5 80.9)"/><ellipse cx="711.5" cy="62.5" rx="2.1" ry="1.25" fill="#b86a38" transform="rotate(78 711.5 62.5)"/><ellipse cx="663.6" cy="88.7" rx="2.1" ry="1.25" fill="#dcae6c" transform="rotate(23 663.6 88.7)"/><ellipse cx="672.9" cy="85.6" rx="2.1" ry="1.25" fill="#b86a38" transform="rotate(174 672.9 85.6)"/><ellipse cx="678.2" cy="43.5" rx="2.1" ry="1.25" fill="#b86a38" transform="rotate(175 678.2 43.5)"/><ellipse cx="650.7" cy="70.9" rx="2.1" ry="1.25" fill="#cc9a58" transform="rotate(169 650.7 70.9)"/><ellipse cx="697.2" cy="78.5" rx="2.1" ry="1.25" fill="#b86a38" transform="rotate(15 697.2 78.5)"/><ellipse cx="648.3" cy="73.7" rx="2.1" ry="1.25" fill="#dcae6c" transform="rotate(116 648.3 73.7)"/><ellipse cx="662.9" cy="46.8" rx="2.1" ry="1.25" fill="#946028" transform="rotate(95 662.9 46.8)"/><ellipse cx="673.9" cy="85.6" rx="2.1" ry="1.25" fill="#cc9a58" transform="rotate(13 673.9 85.6)"/><ellipse cx="681.0" cy="74.6" rx="2.1" ry="1.25" fill="#c08848" transform="rotate(47 681.0 74.6)"/><ellipse cx="660.8" cy="58.3" rx="2.1" ry="1.25" fill="#e6c088" transform="rotate(86 660.8 58.3)"/><ellipse cx="657.3" cy="54.1" rx="2.1" ry="1.25" fill="#c08848" transform="rotate(127 657.3 54.1)"/><ellipse cx="678.9" cy="80.1" rx="2.1" ry="1.25" fill="#c08848" transform="rotate(15 678.9 80.1)"/><ellipse cx="656.7" cy="64.9" rx="2.1" ry="1.25" fill="#d4a460" transform="rotate(41 656.7 64.9)"/><ellipse cx="672.5" cy="80.6" rx="2.1" ry="1.25" fill="#e6c088" transform="rotate(1 672.5 80.6)"/><ellipse cx="662.0" cy="90.6" rx="2.1" ry="1.25" fill="#cc9a58" transform="rotate(37 662.0 90.6)"/><ellipse cx="705.2" cy="53.1" rx="2.1" ry="1.25" fill="#e6c088" transform="rotate(48 705.2 53.1)"/><ellipse cx="689.1" cy="76.2" rx="2.1" ry="1.25" fill="#e6c088" transform="rotate(87 689.1 76.2)"/><ellipse cx="686.8" cy="95.2" rx="2.1" ry="1.25" fill="#dcae6c" transform="rotate(38 686.8 95.2)"/><ellipse cx="670.3" cy="93.8" rx="2.1" ry="1.25" fill="#d4a460" transform="rotate(132 670.3 93.8)"/><ellipse cx="665.0" cy="50.3" rx="2.1" ry="1.25" fill="#b86a38" transform="rotate(6 665.0 50.3)"/><ellipse cx="692.5" cy="62.1" rx="2.1" ry="1.25" fill="#d4a460" transform="rotate(177 692.5 62.1)"/><ellipse cx="674.3" cy="45.6" rx="2.1" ry="1.25" fill="#cc9a58" transform="rotate(50 674.3 45.6)"/><ellipse cx="655.0" cy="60.8" rx="2.1" ry="1.25" fill="#946028" transform="rotate(148 655.0 60.8)"/><ellipse cx="673.5" cy="42.0" rx="2.1" ry="1.25" fill="#b86a38" transform="rotate(35 673.5 42.0)"/><ellipse cx="682.4" cy="66.2" rx="2.1" ry="1.25" fill="#d4a460" transform="rotate(66 682.4 66.2)"/><ellipse cx="671.7" cy="88.5" rx="2.1" ry="1.25" fill="#c08848" transform="rotate(7 671.7 88.5)"/><ellipse cx="699.3" cy="93.8" rx="2.1" ry="1.25" fill="#d4a460" transform="rotate(65 699.3 93.8)"/><ellipse cx="694.5" cy="95.4" rx="2.1" ry="1.25" fill="#946028" transform="rotate(1 694.5 95.4)"/><ellipse cx="677.0" cy="97.4" rx="2.1" ry="1.25" fill="#c08848" transform="rotate(142 677.0 97.4)"/><ellipse cx="648.9" cy="69.3" rx="2.1" ry="1.25" fill="#dcae6c" transform="rotate(144 648.9 69.3)"/><ellipse cx="698.6" cy="89.2" rx="2.1" ry="1.25" fill="#a87038" transform="rotate(109 698.6 89.2)"/><ellipse cx="664.9" cy="58.5" rx="2.1" ry="1.25" fill="#d4a460" transform="rotate(141 664.9 58.5)"/><ellipse cx="686.8" cy="70.2" rx="2.1" ry="1.25" fill="#c08848" transform="rotate(136 686.8 70.2)"/><ellipse cx="640.8" cy="72.7" rx="2.1" ry="1.25" fill="#d4a460" transform="rotate(29 640.8 72.7)"/><ellipse cx="673.0" cy="45.4" rx="2.1" ry="1.25" fill="#cc9a58" transform="rotate(48 673.0 45.4)"/><ellipse cx="678.9" cy="82.3" rx="2.1" ry="1.25" fill="#b86a38" transform="rotate(31 678.9 82.3)"/><ellipse cx="648.9" cy="67.1" rx="2.1" ry="1.25" fill="#e6c088" transform="rotate(135 648.9 67.1)"/><ellipse cx="707.5" cy="79.5" rx="2.1" ry="1.25" fill="#cc9a58" transform="rotate(140 707.5 79.5)"/><ellipse cx="662.1" cy="56.0" rx="2.1" ry="1.25" fill="#946028" transform="rotate(67 662.1 56.0)"/><ellipse cx="698.5" cy="51.2" rx="2.1" ry="1.25" fill="#e6c088" transform="rotate(33 698.5 51.2)"/><ellipse cx="657.3" cy="56.2" rx="2.1" ry="1.25" fill="#e6c088" transform="rotate(59 657.3 56.2)"/><ellipse cx="679.6" cy="53.1" rx="2.1" ry="1.25" fill="#cc9a58" transform="rotate(118 679.6 53.1)"/><ellipse cx="676.9" cy="89.0" rx="2.1" ry="1.25" fill="#b86a38" transform="rotate(165 676.9 89.0)"/><ellipse cx="717.8" cy="74.6" rx="2.1" ry="1.25" fill="#cc9a58" transform="rotate(67 717.8 74.6)"/><ellipse cx="709.0" cy="66.4" rx="2.1" ry="1.25" fill="#946028" transform="rotate(139 709.0 66.4)"/><ellipse cx="690.3" cy="82.3" rx="2.1" ry="1.25" fill="#d4a460" transform="rotate(39 690.3 82.3)"/><ellipse cx="668.2" cy="47.6" rx="2.1" ry="1.25" fill="#e6c088" transform="rotate(180 668.2 47.6)"/><ellipse cx="705.1" cy="63.9" rx="2.1" ry="1.25" fill="#d4a460" transform="rotate(33 705.1 63.9)"/><ellipse cx="663.6" cy="51.4" rx="2.1" ry="1.25" fill="#b86a38" transform="rotate(99 663.6 51.4)"/><ellipse cx="670.4" cy="72.6" rx="2.1" ry="1.25" fill="#cc9a58" transform="rotate(118 670.4 72.6)"/><ellipse cx="670.6" cy="55.5" rx="2.1" ry="1.25" fill="#946028" transform="rotate(120 670.6 55.5)"/><ellipse cx="672.3" cy="42.1" rx="2.1" ry="1.25" fill="#d4a460" transform="rotate(75 672.3 42.1)"/><ellipse cx="703.8" cy="78.3" rx="2.1" ry="1.25" fill="#c08848" transform="rotate(131 703.8 78.3)"/><ellipse cx="711.9" cy="64.8" rx="2.1" ry="1.25" fill="#cc9a58" transform="rotate(73 711.9 64.8)"/><ellipse cx="710.4" cy="67.1" rx="2.1" ry="1.25" fill="#a87038" transform="rotate(23 710.4 67.1)"/><ellipse cx="704.1" cy="63.2" rx="2.1" ry="1.25" fill="#d4a460" transform="rotate(133 704.1 63.2)"/><ellipse cx="652.1" cy="60.2" rx="2.1" ry="1.25" fill="#a87038" transform="rotate(94 652.1 60.2)"/><ellipse cx="678.2" cy="88.1" rx="2.1" ry="1.25" fill="#e6c088" transform="rotate(54 678.2 88.1)"/><ellipse cx="687.8" cy="77.8" rx="2.1" ry="1.25" fill="#cc9a58" transform="rotate(163 687.8 77.8)"/><ellipse cx="688.9" cy="89.3" rx="2.1" ry="1.25" fill="#a87038" transform="rotate(115 688.9 89.3)"/><ellipse cx="708.2" cy="76.9" rx="2.1" ry="1.25" fill="#e6c088" transform="rotate(149 708.2 76.9)"/><ellipse cx="653.0" cy="52.3" rx="2.1" ry="1.25" fill="#c08848" transform="rotate(169 653.0 52.3)"/><ellipse cx="650.8" cy="60.9" rx="2.1" ry="1.25" fill="#a87038" transform="rotate(44 650.8 60.9)"/><ellipse cx="697.4" cy="93.7" rx="2.1" ry="1.25" fill="#dcae6c" transform="rotate(159 697.4 93.7)"/><ellipse cx="707.1" cy="80.0" rx="2.1" ry="1.25" fill="#d4a460" transform="rotate(21 707.1 80.0)"/><ellipse cx="687.2" cy="72.6" rx="2.1" ry="1.25" fill="#946028" transform="rotate(117 687.2 72.6)"/><ellipse cx="663.3" cy="54.2" rx="2.1" ry="1.25" fill="#c08848" transform="rotate(119 663.3 54.2)"/><ellipse cx="674.6" cy="65.7" rx="2.1" ry="1.25" fill="#dcae6c" transform="rotate(1 674.6 65.7)"/><ellipse cx="674.6" cy="76.7" rx="2.1" ry="1.25" fill="#b86a38" transform="rotate(151 674.6 76.7)"/><ellipse cx="704.5" cy="63.4" rx="2.1" ry="1.25" fill="#cc9a58" transform="rotate(23 704.5 63.4)"/><ellipse cx="673.3" cy="44.6" rx="2.1" ry="1.25" fill="#b86a38" transform="rotate(91 673.3 44.6)"/><ellipse cx="691.9" cy="41.5" rx="2.1" ry="1.25" fill="#a87038" transform="rotate(15 691.9 41.5)"/><ellipse cx="698.1" cy="86.4" rx="2.1" ry="1.25" fill="#cc9a58" transform="rotate(10 698.1 86.4)"/><ellipse cx="679.3" cy="62.0" rx="2.1" ry="1.25" fill="#a87038" transform="rotate(5 679.3 62.0)"/><ellipse cx="643.4" cy="76.5" rx="2.1" ry="1.25" fill="#cc9a58" transform="rotate(35 643.4 76.5)"/><ellipse cx="666.8" cy="85.1" rx="2.1" ry="1.25" fill="#a87038" transform="rotate(58 666.8 85.1)"/><ellipse cx="688.3" cy="94.2" rx="2.1" ry="1.25" fill="#b86a38" transform="rotate(26 688.3 94.2)"/><ellipse cx="679.2" cy="95.1" rx="2.1" ry="1.25" fill="#e6c088" transform="rotate(107 679.2 95.1)"/><ellipse cx="688.5" cy="53.5" rx="2.1" ry="1.25" fill="#d4a460" transform="rotate(7 688.5 53.5)"/><ellipse cx="714.8" cy="80.5" rx="2.1" ry="1.25" fill="#c08848" transform="rotate(30 714.8 80.5)"/><ellipse cx="681.5" cy="77.8" rx="2.1" ry="1.25" fill="#d4a460" transform="rotate(174 681.5 77.8)"/><ellipse cx="675.1" cy="70.8" rx="2.1" ry="1.25" fill="#cc9a58" transform="rotate(45 675.1 70.8)"/><ellipse cx="681.9" cy="91.3" rx="2.1" ry="1.25" fill="#d4a460" transform="rotate(48 681.9 91.3)"/><ellipse cx="667.5" cy="85.6" rx="2.1" ry="1.25" fill="#b86a38" transform="rotate(41 667.5 85.6)"/><ellipse cx="662.3" cy="70.5" rx="2.1" ry="1.25" fill="#946028" transform="rotate(115 662.3 70.5)"/><ellipse cx="692.4" cy="58.1" rx="2.1" ry="1.25" fill="#dcae6c" transform="rotate(134 692.4 58.1)"/><ellipse cx="656.2" cy="56.7" rx="2.1" ry="1.25" fill="#c08848" transform="rotate(75 656.2 56.7)"/><ellipse cx="678.0" cy="76.4" rx="2.1" ry="1.25" fill="#dcae6c" transform="rotate(4 678.0 76.4)"/><ellipse cx="646.7" cy="60.8" rx="2.1" ry="1.25" fill="#e6c088" transform="rotate(74 646.7 60.8)"/><ellipse cx="662.7" cy="47.2" rx="2.1" ry="1.25" fill="#d4a460" transform="rotate(112 662.7 47.2)"/><ellipse cx="676.9" cy="47.2" rx="2.1" ry="1.25" fill="#e6c088" transform="rotate(127 676.9 47.2)"/><ellipse cx="675.0" cy="42.9" rx="2.1" ry="1.25" fill="#a87038" transform="rotate(157 675.0 42.9)"/><ellipse cx="702.1" cy="63.5" rx="2.1" ry="1.25" fill="#946028" transform="rotate(174 702.1 63.5)"/><ellipse cx="711.2" cy="75.3" rx="2.1" ry="1.25" fill="#b86a38" transform="rotate(108 711.2 75.3)"/><ellipse cx="680.4" cy="69.1" rx="2.1" ry="1.25" fill="#a87038" transform="rotate(163 680.4 69.1)"/><ellipse cx="641.6" cy="71.4" rx="2.1" ry="1.25" fill="#c08848" transform="rotate(33 641.6 71.4)"/><ellipse cx="646.6" cy="76.4" rx="2.1" ry="1.25" fill="#e6c088" transform="rotate(26 646.6 76.4)"/><ellipse cx="654.4" cy="76.1" rx="2.1" ry="1.25" fill="#c08848" transform="rotate(146 654.4 76.1)"/><ellipse cx="652.3" cy="57.9" rx="2.1" ry="1.25" fill="#946028" transform="rotate(113 652.3 57.9)"/><ellipse cx="677.2" cy="71.8" rx="2.1" ry="1.25" fill="#c08848" transform="rotate(152 677.2 71.8)"/><ellipse cx="699.1" cy="67.4" rx="2.1" ry="1.25" fill="#b86a38" transform="rotate(32 699.1 67.4)"/><ellipse cx="690.8" cy="46.5" rx="2.1" ry="1.25" fill="#946028" transform="rotate(128 690.8 46.5)"/><ellipse cx="659.8" cy="72.8" rx="2.1" ry="1.25" fill="#c08848" transform="rotate(123 659.8 72.8)"/><ellipse cx="679.6" cy="49.4" rx="2.1" ry="1.25" fill="#e6c088" transform="rotate(152 679.6 49.4)"/><ellipse cx="669.9" cy="75.7" rx="2.1" ry="1.25" fill="#c08848" transform="rotate(163 669.9 75.7)"/><ellipse cx="689.7" cy="81.3" rx="2.1" ry="1.25" fill="#b86a38" transform="rotate(85 689.7 81.3)"/><ellipse cx="702.7" cy="62.9" rx="2.1" ry="1.25" fill="#cc9a58" transform="rotate(102 702.7 62.9)"/><ellipse cx="647.2" cy="76.9" rx="2.1" ry="1.25" fill="#a87038" transform="rotate(62 647.2 76.9)"/><ellipse cx="690.0" cy="81.5" rx="2.1" ry="1.25" fill="#dcae6c" transform="rotate(12 690.0 81.5)"/><ellipse cx="686.4" cy="61.2" rx="2.1" ry="1.25" fill="#cc9a58" transform="rotate(158 686.4 61.2)"/><ellipse cx="700.0" cy="82.4" rx="2.1" ry="1.25" fill="#c08848" transform="rotate(19 700.0 82.4)"/><ellipse cx="704.6" cy="77.7" rx="2.1" ry="1.25" fill="#946028" transform="rotate(86 704.6 77.7)"/><ellipse cx="691.0" cy="57.0" rx="2.1" ry="1.25" fill="#d4a460" transform="rotate(76 691.0 57.0)"/><ellipse cx="661.2" cy="82.7" rx="2.1" ry="1.25" fill="#d4a460" transform="rotate(164 661.2 82.7)"/><ellipse cx="701.1" cy="75.7" rx="2.1" ry="1.25" fill="#b86a38" transform="rotate(153 701.1 75.7)"/><ellipse cx="688.7" cy="40.9" rx="2.1" ry="1.25" fill="#c08848" transform="rotate(6 688.7 40.9)"/><ellipse cx="680.5" cy="45.0" rx="2.1" ry="1.25" fill="#b86a38" transform="rotate(127 680.5 45.0)"/><ellipse cx="682.1" cy="52.2" rx="2.1" ry="1.25" fill="#cc9a58" transform="rotate(103 682.1 52.2)"/><ellipse cx="661.5" cy="65.6" rx="2.1" ry="1.25" fill="#e6c088" transform="rotate(52 661.5 65.6)"/><ellipse cx="666.5" cy="44.8" rx="2.1" ry="1.25" fill="#a87038" transform="rotate(174 666.5 44.8)"/><ellipse cx="680.2" cy="74.3" rx="2.1" ry="1.25" fill="#a87038" transform="rotate(51 680.2 74.3)"/><ellipse cx="655.6" cy="81.7" rx="2.1" ry="1.25" fill="#b86a38" transform="rotate(30 655.6 81.7)"/><ellipse cx="684.0" cy="45.4" rx="2.1" ry="1.25" fill="#d4a460" transform="rotate(64 684.0 45.4)"/><ellipse cx="670.9" cy="63.1" rx="2.1" ry="1.25" fill="#cc9a58" transform="rotate(76 670.9 63.1)"/><ellipse cx="691.0" cy="61.7" rx="2.1" ry="1.25" fill="#946028" transform="rotate(47 691.0 61.7)"/><ellipse cx="711.9" cy="69.6" rx="2.1" ry="1.25" fill="#c08848" transform="rotate(177 711.9 69.6)"/><ellipse cx="648.4" cy="75.2" rx="2.1" ry="1.25" fill="#dcae6c" transform="rotate(63 648.4 75.2)"/><ellipse cx="664.8" cy="48.5" rx="2.1" ry="1.25" fill="#b86a38" transform="rotate(119 664.8 48.5)"/><ellipse cx="698.8" cy="49.3" rx="2.1" ry="1.25" fill="#b86a38" transform="rotate(124 698.8 49.3)"/><ellipse cx="659.1" cy="53.1" rx="2.1" ry="1.25" fill="#d4a460" transform="rotate(83 659.1 53.1)"/><ellipse cx="653.7" cy="57.4" rx="2.1" ry="1.25" fill="#a87038" transform="rotate(130 653.7 57.4)"/><ellipse cx="687.4" cy="60.3" rx="2.1" ry="1.25" fill="#e6c088" transform="rotate(59 687.4 60.3)"/><ellipse cx="697.8" cy="45.2" rx="2.1" ry="1.25" fill="#cc9a58" transform="rotate(35 697.8 45.2)"/><ellipse cx="662.8" cy="57.1" rx="2.1" ry="1.25" fill="#946028" transform="rotate(35 662.8 57.1)"/><ellipse cx="690.3" cy="45.5" rx="2.1" ry="1.25" fill="#e6c088" transform="rotate(159 690.3 45.5)"/><ellipse cx="708.1" cy="65.6" rx="2.1" ry="1.25" fill="#e6c088" transform="rotate(90 708.1 65.6)"/><ellipse cx="689.9" cy="67.3" rx="2.1" ry="1.25" fill="#a87038" transform="rotate(46 689.9 67.3)"/><ellipse cx="695.5" cy="74.8" rx="2.1" ry="1.25" fill="#c08848" transform="rotate(152 695.5 74.8)"/><ellipse cx="692.8" cy="78.8" rx="2.1" ry="1.25" fill="#e6c088" transform="rotate(122 692.8 78.8)"/><ellipse cx="690.6" cy="66.7" rx="2.1" ry="1.25" fill="#d4a460" transform="rotate(47 690.6 66.7)"/><ellipse cx="695.5" cy="93.6" rx="2.1" ry="1.25" fill="#e6c088" transform="rotate(141 695.5 93.6)"/><ellipse cx="696.5" cy="77.4" rx="2.1" ry="1.25" fill="#946028" transform="rotate(153 696.5 77.4)"/><ellipse cx="708.4" cy="70.6" rx="2.1" ry="1.25" fill="#a87038" transform="rotate(161 708.4 70.6)"/><ellipse cx="655.9" cy="82.7" rx="2.1" ry="1.25" fill="#e6c088" transform="rotate(93 655.9 82.7)"/><ellipse cx="646.3" cy="74.0" rx="2.1" ry="1.25" fill="#e6c088" transform="rotate(129 646.3 74.0)"/><ellipse cx="680.0" cy="78.0" rx="2.1" ry="1.25" fill="#d4a460" transform="rotate(94 680.0 78.0)"/><ellipse cx="671.6" cy="96.8" rx="2.1" ry="1.25" fill="#e6c088" transform="rotate(178 671.6 96.8)"/><ellipse cx="653.1" cy="70.3" rx="2.1" ry="1.25" fill="#cc9a58" transform="rotate(131 653.1 70.3)"/><ellipse cx="688.3" cy="77.9" rx="2.1" ry="1.25" fill="#946028" transform="rotate(49 688.3 77.9)"/><ellipse cx="672.3" cy="64.7" rx="2.1" ry="1.25" fill="#d4a460" transform="rotate(104 672.3 64.7)"/><ellipse cx="647.0" cy="57.5" rx="2.1" ry="1.25" fill="#c08848" transform="rotate(169 647.0 57.5)"/><ellipse cx="681.2" cy="52.4" rx="2.1" ry="1.25" fill="#c08848" transform="rotate(83 681.2 52.4)"/><ellipse cx="653.8" cy="78.2" rx="2.1" ry="1.25" fill="#e6c088" transform="rotate(147 653.8 78.2)"/><ellipse cx="650.0" cy="79.6" rx="2.1" ry="1.25" fill="#c08848" transform="rotate(84 650.0 79.6)"/><ellipse cx="662.1" cy="72.4" rx="2.1" ry="1.25" fill="#a87038" transform="rotate(140 662.1 72.4)"/><ellipse cx="676.5" cy="86.8" rx="2.1" ry="1.25" fill="#e6c088" transform="rotate(48 676.5 86.8)"/><ellipse cx="668.8" cy="54.5" rx="2.1" ry="1.25" fill="#c08848" transform="rotate(122 668.8 54.5)"/><ellipse cx="677.5" cy="88.1" rx="2.1" ry="1.25" fill="#946028" transform="rotate(64 677.5 88.1)"/><ellipse cx="691.7" cy="58.5" rx="2.1" ry="1.25" fill="#b86a38" transform="rotate(77 691.7 58.5)"/><ellipse cx="690.3" cy="79.2" rx="2.1" ry="1.25" fill="#d4a460" transform="rotate(27 690.3 79.2)"/><ellipse cx="662.9" cy="62.5" rx="2.1" ry="1.25" fill="#cc9a58" transform="rotate(149 662.9 62.5)"/><ellipse cx="691.8" cy="54.3" rx="2.1" ry="1.25" fill="#cc9a58" transform="rotate(104 691.8 54.3)"/><ellipse cx="675.1" cy="86.9" rx="2.1" ry="1.25" fill="#e6c088" transform="rotate(163 675.1 86.9)"/><ellipse cx="702.9" cy="49.2" rx="2.1" ry="1.25" fill="#cc9a58" transform="rotate(120 702.9 49.2)"/><ellipse cx="694.8" cy="71.4" rx="2.1" ry="1.25" fill="#b86a38" transform="rotate(121 694.8 71.4)"/><ellipse cx="672.4" cy="89.5" rx="2.1" ry="1.25" fill="#b86a38" transform="rotate(89 672.4 89.5)"/><ellipse cx="642.8" cy="67.5" rx="2.1" ry="1.25" fill="#a87038" transform="rotate(126 642.8 67.5)"/><ellipse cx="658.2" cy="49.0" rx="2.1" ry="1.25" fill="#dcae6c" transform="rotate(29 658.2 49.0)"/><ellipse cx="664.3" cy="81.4" rx="2.1" ry="1.25" fill="#b86a38" transform="rotate(120 664.3 81.4)"/><ellipse cx="706.9" cy="61.9" rx="2.1" ry="1.25" fill="#c08848" transform="rotate(180 706.9 61.9)"/><ellipse cx="693.4" cy="50.0" rx="2.1" ry="1.25" fill="#d4a460" transform="rotate(115 693.4 50.0)"/><ellipse cx="679.9" cy="68.6" rx="2.1" ry="1.25" fill="#a87038" transform="rotate(6 679.9 68.6)"/><ellipse cx="696.9" cy="77.1" rx="2.1" ry="1.25" fill="#d4a460" transform="rotate(17 696.9 77.1)"/><ellipse cx="692.0" cy="59.8" rx="2.1" ry="1.25" fill="#e6c088" transform="rotate(51 692.0 59.8)"/><ellipse cx="666.0" cy="54.3" rx="2.1" ry="1.25" fill="#dcae6c" transform="rotate(149 666.0 54.3)"/><ellipse cx="662.0" cy="89.5" rx="2.1" ry="1.25" fill="#c08848" transform="rotate(60 662.0 89.5)"/><ellipse cx="666.3" cy="51.4" rx="2.1" ry="1.25" fill="#b86a38" transform="rotate(143 666.3 51.4)"/><ellipse cx="665.1" cy="58.3" rx="2.1" ry="1.25" fill="#946028" transform="rotate(23 665.1 58.3)"/><ellipse cx="683.5" cy="63.8" rx="2.1" ry="1.25" fill="#dcae6c" transform="rotate(72 683.5 63.8)"/><ellipse cx="705.4" cy="68.0" rx="2.1" ry="1.25" fill="#dcae6c" transform="rotate(142 705.4 68.0)"/><ellipse cx="712.6" cy="76.3" rx="2.1" ry="1.25" fill="#a87038" transform="rotate(113 712.6 76.3)"/><ellipse cx="695.1" cy="75.4" rx="2.1" ry="1.25" fill="#cc9a58" transform="rotate(38 695.1 75.4)"/><ellipse cx="692.7" cy="66.9" rx="2.1" ry="1.25" fill="#a87038" transform="rotate(18 692.7 66.9)"/><ellipse cx="691.8" cy="61.5" rx="2.1" ry="1.25" fill="#a87038" transform="rotate(142 691.8 61.5)"/><ellipse cx="684.1" cy="54.7" rx="2.1" ry="1.25" fill="#946028" transform="rotate(33 684.1 54.7)"/><ellipse cx="684.4" cy="74.3" rx="2.1" ry="1.25" fill="#dcae6c" transform="rotate(90 684.4 74.3)"/><ellipse cx="680.8" cy="89.3" rx="2.1" ry="1.25" fill="#c08848" transform="rotate(104 680.8 89.3)"/><ellipse cx="713.3" cy="66.2" rx="2.1" ry="1.25" fill="#dcae6c" transform="rotate(122 713.3 66.2)"/><ellipse cx="692.1" cy="48.5" rx="2.1" ry="1.25" fill="#c08848" transform="rotate(99 692.1 48.5)"/><ellipse cx="644.8" cy="67.8" rx="2.1" ry="1.25" fill="#a87038" transform="rotate(113 644.8 67.8)"/><ellipse cx="648.0" cy="67.8" rx="2.1" ry="1.25" fill="#946028" transform="rotate(129 648.0 67.8)"/><ellipse cx="657.9" cy="83.7" rx="2.1" ry="1.25" fill="#a87038" transform="rotate(166 657.9 83.7)"/><ellipse cx="668.0" cy="84.6" rx="2.1" ry="1.25" fill="#a87038" transform="rotate(131 668.0 84.6)"/><ellipse cx="644.9" cy="77.3" rx="2.1" ry="1.25" fill="#b86a38" transform="rotate(83 644.9 77.3)"/><ellipse cx="691.4" cy="88.9" rx="2.1" ry="1.25" fill="#cc9a58" transform="rotate(70 691.4 88.9)"/><ellipse cx="663.6" cy="75.6" rx="2.1" ry="1.25" fill="#b86a38" transform="rotate(110 663.6 75.6)"/><ellipse cx="697.7" cy="67.7" rx="2.1" ry="1.25" fill="#a87038" transform="rotate(26 697.7 67.7)"/><ellipse cx="703.4" cy="61.2" rx="2.1" ry="1.25" fill="#a87038" transform="rotate(113 703.4 61.2)"/><ellipse cx="672.3" cy="62.5" rx="2.1" ry="1.25" fill="#b86a38" transform="rotate(170 672.3 62.5)"/><ellipse cx="702.3" cy="73.6" rx="2.1" ry="1.25" fill="#946028" transform="rotate(50 702.3 73.6)"/><ellipse cx="689.0" cy="78.7" rx="2.1" ry="1.25" fill="#d4a460" transform="rotate(157 689.0 78.7)"/><ellipse cx="658.2" cy="62.6" rx="2.1" ry="1.25" fill="#c08848" transform="rotate(108 658.2 62.6)"/><ellipse cx="659.6" cy="64.8" rx="2.1" ry="1.25" fill="#dcae6c" transform="rotate(52 659.6 64.8)"/><ellipse cx="682.9" cy="86.4" rx="2.1" ry="1.25" fill="#b86a38" transform="rotate(62 682.9 86.4)"/><ellipse cx="645.0" cy="72.8" rx="2.1" ry="1.25" fill="#c08848" transform="rotate(36 645.0 72.8)"/><ellipse cx="657.2" cy="76.0" rx="2.1" ry="1.25" fill="#c08848" transform="rotate(84 657.2 76.0)"/><ellipse cx="654.9" cy="54.5" rx="2.1" ry="1.25" fill="#dcae6c" transform="rotate(142 654.9 54.5)"/><ellipse cx="675.7" cy="44.3" rx="2.1" ry="1.25" fill="#d4a460" transform="rotate(139 675.7 44.3)"/><ellipse cx="657.1" cy="74.4" rx="2.1" ry="1.25" fill="#946028" transform="rotate(159 657.1 74.4)"/><ellipse cx="680.8" cy="68.1" rx="2.1" ry="1.25" fill="#e6c088" transform="rotate(34 680.8 68.1)"/><ellipse cx="653.8" cy="50.0" rx="2.1" ry="1.25" fill="#946028" transform="rotate(65 653.8 50.0)"/><ellipse cx="684.3" cy="63.6" rx="2.1" ry="1.25" fill="#a87038" transform="rotate(44 684.3 63.6)"/><ellipse cx="713.7" cy="69.1" rx="2.1" ry="1.25" fill="#cc9a58" transform="rotate(67 713.7 69.1)"/><ellipse cx="676.0" cy="44.0" rx="2.1" ry="1.25" fill="#d4a460" transform="rotate(107 676.0 44.0)"/><ellipse cx="666.3" cy="70.7" rx="2.1" ry="1.25" fill="#dcae6c" transform="rotate(17 666.3 70.7)"/><ellipse cx="684.4" cy="74.8" rx="2.1" ry="1.25" fill="#e6c088" transform="rotate(47 684.4 74.8)"/><ellipse cx="701.9" cy="65.0" rx="2.1" ry="1.25" fill="#b86a38" transform="rotate(138 701.9 65.0)"/><ellipse cx="654.5" cy="50.0" rx="2.1" ry="1.25" fill="#cc9a58" transform="rotate(5 654.5 50.0)"/><ellipse cx="640.9" cy="61.5" rx="2.1" ry="1.25" fill="#b86a38" transform="rotate(88 640.9 61.5)"/><ellipse cx="708.8" cy="78.0" rx="2.1" ry="1.25" fill="#cc9a58" transform="rotate(127 708.8 78.0)"/><ellipse cx="645.4" cy="58.4" rx="2.1" ry="1.25" fill="#e6c088" transform="rotate(115 645.4 58.4)"/><ellipse cx="670.2" cy="66.3" rx="2.1" ry="1.25" fill="#a87038" transform="rotate(67 670.2 66.3)"/><ellipse cx="657.3" cy="83.0" rx="2.1" ry="1.25" fill="#a87038" transform="rotate(7 657.3 83.0)"/><ellipse cx="659.0" cy="60.5" rx="2.1" ry="1.25" fill="#dcae6c" transform="rotate(151 659.0 60.5)"/><ellipse cx="696.2" cy="78.4" rx="2.1" ry="1.25" fill="#b86a38" transform="rotate(10 696.2 78.4)"/><ellipse cx="715.0" cy="80.3" rx="2.1" ry="1.25" fill="#946028" transform="rotate(106 715.0 80.3)"/><ellipse cx="674.2" cy="78.8" rx="2.1" ry="1.25" fill="#b86a38" transform="rotate(58 674.2 78.8)"/><ellipse cx="659.1" cy="46.6" rx="2.1" ry="1.25" fill="#b86a38" transform="rotate(68 659.1 46.6)"/><ellipse cx="674.2" cy="88.3" rx="2.1" ry="1.25" fill="#dcae6c" transform="rotate(84 674.2 88.3)"/><ellipse cx="644.4" cy="76.7" rx="2.1" ry="1.25" fill="#d4a460" transform="rotate(160 644.4 76.7)"/><ellipse cx="649.5" cy="66.3" rx="2.1" ry="1.25" fill="#cc9a58" transform="rotate(167 649.5 66.3)"/><ellipse cx="664.5" cy="53.3" rx="2.1" ry="1.25" fill="#cc9a58" transform="rotate(113 664.5 53.3)"/><ellipse cx="683.4" cy="47.8" rx="2.1" ry="1.25" fill="#a87038" transform="rotate(48 683.4 47.8)"/><ellipse cx="671.8" cy="48.5" rx="2.1" ry="1.25" fill="#946028" transform="rotate(103 671.8 48.5)"/><ellipse cx="662.3" cy="88.1" rx="2.1" ry="1.25" fill="#946028" transform="rotate(88 662.3 88.1)"/><ellipse cx="664.1" cy="94.1" rx="2.1" ry="1.25" fill="#cc9a58" transform="rotate(28 664.1 94.1)"/><ellipse cx="680.1" cy="77.5" rx="2.1" ry="1.25" fill="#e6c088" transform="rotate(101 680.1 77.5)"/><ellipse cx="673.4" cy="55.0" rx="2.1" ry="1.25" fill="#e6c088" transform="rotate(167 673.4 55.0)"/><ellipse cx="697.6" cy="56.9" rx="2.1" ry="1.25" fill="#dcae6c" transform="rotate(80 697.6 56.9)"/><ellipse cx="679.6" cy="70.2" rx="2.1" ry="1.25" fill="#b86a38" transform="rotate(0 679.6 70.2)"/><ellipse cx="706.2" cy="71.1" rx="2.1" ry="1.25" fill="#a87038" transform="rotate(65 706.2 71.1)"/><ellipse cx="641.3" cy="63.9" rx="2.1" ry="1.25" fill="#946028" transform="rotate(103 641.3 63.9)"/><ellipse cx="701.2" cy="82.4" rx="2.1" ry="1.25" fill="#e6c088" transform="rotate(108 701.2 82.4)"/><ellipse cx="697.9" cy="85.4" rx="2.1" ry="1.25" fill="#a87038" transform="rotate(37 697.9 85.4)"/><ellipse cx="688.2" cy="82.2" rx="2.1" ry="1.25" fill="#e6c088" transform="rotate(105 688.2 82.2)"/><ellipse cx="698.1" cy="63.9" rx="2.1" ry="1.25" fill="#dcae6c" transform="rotate(93 698.1 63.9)"/><ellipse cx="666.5" cy="56.2" rx="2.1" ry="1.25" fill="#b86a38" transform="rotate(16 666.5 56.2)"/><ellipse cx="671.6" cy="85.5" rx="2.1" ry="1.25" fill="#a87038" transform="rotate(157 671.6 85.5)"/><ellipse cx="659.8" cy="50.3" rx="2.1" ry="1.25" fill="#d4a460" transform="rotate(7 659.8 50.3)"/><ellipse cx="695.6" cy="74.1" rx="2.1" ry="1.25" fill="#dcae6c" transform="rotate(64 695.6 74.1)"/><ellipse cx="643.9" cy="60.8" rx="2.1" ry="1.25" fill="#e6c088" transform="rotate(147 643.9 60.8)"/><ellipse cx="709.0" cy="58.6" rx="2.1" ry="1.25" fill="#c08848" transform="rotate(104 709.0 58.6)"/><ellipse cx="688.8" cy="49.2" rx="2.1" ry="1.25" fill="#946028" transform="rotate(45 688.8 49.2)"/><ellipse cx="687.2" cy="74.2" rx="2.1" ry="1.25" fill="#e6c088" transform="rotate(126 687.2 74.2)"/><ellipse cx="648.1" cy="69.1" rx="2.1" ry="1.25" fill="#946028" transform="rotate(20 648.1 69.1)"/><ellipse cx="682.4" cy="52.9" rx="2.1" ry="1.25" fill="#e6c088" transform="rotate(26 682.4 52.9)"/><ellipse cx="685.0" cy="84.5" rx="2.1" ry="1.25" fill="#a87038" transform="rotate(171 685.0 84.5)"/><ellipse cx="694.9" cy="75.4" rx="2.1" ry="1.25" fill="#dcae6c" transform="rotate(71 694.9 75.4)"/><ellipse cx="665.8" cy="53.7" rx="2.1" ry="1.25" fill="#d4a460" transform="rotate(129 665.8 53.7)"/><ellipse cx="707.1" cy="73.4" rx="2.1" ry="1.25" fill="#d4a460" transform="rotate(147 707.1 73.4)"/><ellipse cx="672.6" cy="77.6" rx="2.1" ry="1.25" fill="#d4a460" transform="rotate(20 672.6 77.6)"/><ellipse cx="653.4" cy="58.8" rx="2.1" ry="1.25" fill="#e6c088" transform="rotate(91 653.4 58.8)"/><ellipse cx="714.8" cy="77.6" rx="2.1" ry="1.25" fill="#dcae6c" transform="rotate(6 714.8 77.6)"/><ellipse cx="690.6" cy="55.2" rx="2.1" ry="1.25" fill="#946028" transform="rotate(113 690.6 55.2)"/><ellipse cx="666.5" cy="49.2" rx="2.1" ry="1.25" fill="#dcae6c" transform="rotate(107 666.5 49.2)"/><ellipse cx="716.4" cy="70.3" rx="2.1" ry="1.25" fill="#946028" transform="rotate(15 716.4 70.3)"/><ellipse cx="686.4" cy="95.8" rx="2.1" ry="1.25" fill="#b86a38" transform="rotate(22 686.4 95.8)"/><ellipse cx="648.8" cy="56.9" rx="2.1" ry="1.25" fill="#c08848" transform="rotate(104 648.8 56.9)"/><ellipse cx="660.5" cy="83.9" rx="2.1" ry="1.25" fill="#946028" transform="rotate(151 660.5 83.9)"/><ellipse cx="688.0" cy="73.8" rx="2.1" ry="1.25" fill="#c08848" transform="rotate(36 688.0 73.8)"/><ellipse cx="696.2" cy="67.1" rx="2.1" ry="1.25" fill="#946028" transform="rotate(110 696.2 67.1)"/><ellipse cx="676.5" cy="57.9" rx="2.1" ry="1.25" fill="#e6c088" transform="rotate(60 676.5 57.9)"/><ellipse cx="653.5" cy="72.3" rx="2.1" ry="1.25" fill="#c08848" transform="rotate(2 653.5 72.3)"/><ellipse cx="666.9" cy="91.6" rx="2.1" ry="1.25" fill="#e6c088" transform="rotate(58 666.9 91.6)"/><ellipse cx="664.7" cy="55.5" rx="2.1" ry="1.25" fill="#e6c088" transform="rotate(53 664.7 55.5)"/><ellipse cx="701.3" cy="48.7" rx="2.1" ry="1.25" fill="#cc9a58" transform="rotate(109 701.3 48.7)"/><ellipse cx="666.5" cy="79.1" rx="2.1" ry="1.25" fill="#c08848" transform="rotate(150 666.5 79.1)"/><ellipse cx="667.0" cy="85.5" rx="2.1" ry="1.25" fill="#e6c088" transform="rotate(178 667.0 85.5)"/><ellipse cx="672.2" cy="79.8" rx="2.1" ry="1.25" fill="#a87038" transform="rotate(122 672.2 79.8)"/><ellipse cx="688.5" cy="90.8" rx="2.1" ry="1.25" fill="#cc9a58" transform="rotate(133 688.5 90.8)"/><ellipse cx="698.9" cy="85.3" rx="2.1" ry="1.25" fill="#b86a38" transform="rotate(48 698.9 85.3)"/><ellipse cx="689.7" cy="77.6" rx="2.1" ry="1.25" fill="#a87038" transform="rotate(74 689.7 77.6)"/><ellipse cx="646.5" cy="64.0" rx="2.1" ry="1.25" fill="#cc9a58" transform="rotate(90 646.5 64.0)"/><ellipse cx="716.9" cy="73.9" rx="2.1" ry="1.25" fill="#c08848" transform="rotate(153 716.9 73.9)"/><ellipse cx="660.9" cy="76.9" rx="2.1" ry="1.25" fill="#cc9a58" transform="rotate(68 660.9 76.9)"/><ellipse cx="675.1" cy="66.9" rx="2.1" ry="1.25" fill="#d4a460" transform="rotate(53 675.1 66.9)"/><ellipse cx="670.0" cy="72.9" rx="2.1" ry="1.25" fill="#c08848" transform="rotate(117 670.0 72.9)"/><ellipse cx="662.6" cy="71.7" rx="2.1" ry="1.25" fill="#a87038" transform="rotate(78 662.6 71.7)"/><ellipse cx="668.9" cy="53.1" rx="2.1" ry="1.25" fill="#d4a460" transform="rotate(58 668.9 53.1)"/><ellipse cx="673.0" cy="94.5" rx="2.1" ry="1.25" fill="#dcae6c" transform="rotate(5 673.0 94.5)"/><ellipse cx="662.6" cy="71.7" rx="2.1" ry="1.25" fill="#946028" transform="rotate(97 662.6 71.7)"/><ellipse cx="680.4" cy="80.8" rx="2.1" ry="1.25" fill="#c08848" transform="rotate(84 680.4 80.8)"/><ellipse cx="655.1" cy="91.8" rx="2.2" ry="1.4" fill="#c89858" transform="rotate(-30 655.1 91.8)"/></g>
<!-- 6 vodka -->
<g id="img-vodka" filter="url(#blur1)">
<path d="M933.5,93 Q927,96 926.5,104 L926.5,149 Q926.5,152 930,152 L945.5,152 Q949,152 949,149 L949,104 Q948.5,96 942,93 Z" fill="#f2f3f5" stroke="#b8bcc2" stroke-width="0.8"/>
<path d="M928,106 L928,148" stroke="#d4d8dc" stroke-width="1.2"/>
<path d="M947.5,106 L947.5,148" stroke="#d0d4d8" stroke-width="1"/>
<rect x="933.3" y="78.2" width="8.6" height="15" rx="1" fill="#e4e6e8" stroke="#a8acb0" stroke-width="0.7"/>
<rect x="933.3" y="80" width="8.6" height="1" fill="#b0b4b8"/>
<rect x="933.3" y="91.5" width="8.6" height="2" fill="#c0c4c8"/>
<text x="937.8" y="111" text-anchor="middle" textLength="19" lengthAdjust="spacingAndGlyphs" style="font-size:6.5px;font-weight:bold;fill:#2848a8;stroke:#2848a8;stroke-width:0.3px">ABSOLUT</text>
<text x="937.8" y="116.6" text-anchor="middle" textLength="15" lengthAdjust="spacingAndGlyphs" style="font-size:6px;font-weight:bold;fill:#2848a8;stroke:#2848a8;stroke-width:0.3px">VODKA</text>
<rect x="931" y="119.5" width="14" height="0.8" fill="#c08080"/>
<rect x="930" y="122.5" width="16" height="0.8" fill="#b07878"/>
<rect x="930" y="125.5" width="16" height="0.8" fill="#909090"/>
<rect x="930" y="128.5" width="16" height="0.8" fill="#909090"/>
<rect x="930" y="131.5" width="16" height="0.8" fill="#909090"/>
<rect x="930" y="134.5" width="16" height="0.8" fill="#909090"/>
<rect x="931.5" y="140.3" width="11" height="2.4" fill="#303030"/>
</g>
<!-- 7 phosphate sacks -->
<g id="img-phos" filter="url(#blur1)">
<path d="M986,171 Q1004,168 1022,170 Q1021,195 1023,220 Q1005,222 988,221 Z" fill="#aeacb2" stroke="#5a5a62" stroke-width="0.9"/>
<path d="M1004,184 L1015,186 L1015,200 L1003,201 Z" fill="none" stroke="#e8e8ea" stroke-width="1.2"/>
<path d="M1000,194 L1018,194" stroke="#e8e8ea" stroke-width="1"/>
<path d="M983,176.5 Q996,174 1009,176 Q1007,200 1009,223 Q996,224 984,223 Q986,200 983,176.5 Z" fill="#b6b4ba" stroke="#2e2e3a" stroke-width="1.1"/>
<path d="M986,185 L992,184 L991,190 L986,190 Z" fill="#4a4a52"/>
<rect x="986" y="191" width="17" height="1.4" fill="#606068"/>
<rect x="986" y="195" width="15" height="1" fill="#808088"/>
<rect x="986" y="199" width="16" height="1" fill="#808088"/>
<rect x="986" y="203" width="14" height="1.6" fill="#707078"/>
<rect x="986" y="211" width="15" height="1" fill="#909098"/>
<path d="M953.5,177 Q969,173.5 985,176 Q983,200 986,224.5 Q969,226 954,224 Q956,200 953.5,177 Z" fill="#aca6b6" stroke="#4a4a58" stroke-width="0.9"/>
<ellipse cx="968" cy="193" rx="10" ry="9" fill="#cad88a"/>
<ellipse cx="968" cy="193" rx="5" ry="5" fill="#dce8a0"/>
<rect x="957" y="205" width="25" height="13" fill="#c2aac8" opacity="0.9"/>
<rect x="958" y="208" width="22" height="0.8" fill="#d8c0e0"/>
<rect x="958" y="212" width="22" height="0.8" fill="#d8c0e0"/>
</g>
<!-- 8 iron ore -->
<g id="img-ore" filter="url(#blur1)"><path d="M860.4,220.7 L867.0,219.6 L887.3,221.8 L898.6,225.2 L903.6,229.1 L898.6,238.7 L887.3,247.6 L873.9,248.8 L862.6,243.2 L860.4,233.0 Z" fill="#76747c"/><path d="M863,222 L880,221 L874,232 L864,236 Z" fill="#9a98a0"/><path d="M884,227 L900,229 L892,240 L880,242 Z" fill="#5a5860"/><rect x="879.9" y="235.8" width="1.9" height="1.0" fill="#4a4850"/><rect x="868.1" y="234.4" width="1.6" height="1.3" fill="#c8c6cc"/><rect x="879.7" y="223.3" width="1.4" height="1.4" fill="#c8c6cc"/><rect x="886.2" y="230.9" width="1.3" height="1.3" fill="#4a4850"/><rect x="887.4" y="244.0" width="0.9" height="0.6" fill="#4a4850"/><rect x="886.4" y="242.3" width="1.2" height="1.1" fill="#4a4850"/><rect x="882.8" y="238.2" width="1.4" height="1.2" fill="#3a3840"/><rect x="888.8" y="231.2" width="1.5" height="1.4" fill="#c8c6cc"/><rect x="891.1" y="228.5" width="1.1" height="0.9" fill="#c8c6cc"/><rect x="884.8" y="222.2" width="0.9" height="0.9" fill="#c8c6cc"/><rect x="900.1" y="233.1" width="2.0" height="1.0" fill="#c8c6cc"/><rect x="884.9" y="225.0" width="1.6" height="0.9" fill="#a8a6ae"/><rect x="874.6" y="247.9" width="1.7" height="0.7" fill="#4a4850"/><rect x="880.5" y="233.6" width="1.6" height="0.8" fill="#4a4850"/><rect x="878.4" y="230.5" width="1.3" height="1.5" fill="#c8c6cc"/><rect x="895.4" y="228.1" width="1.9" height="0.8" fill="#3a3840"/><rect x="866.4" y="232.2" width="0.8" height="1.1" fill="#a8a6ae"/><rect x="877.0" y="221.2" width="1.1" height="1.2" fill="#c8c6cc"/><rect x="886.5" y="230.2" width="1.3" height="1.5" fill="#3a3840"/><rect x="877.0" y="237.8" width="1.2" height="0.8" fill="#4a4850"/><rect x="891.9" y="223.8" width="1.6" height="1.1" fill="#3a3840"/><rect x="898.8" y="237.1" width="1.3" height="0.7" fill="#c8c6cc"/><rect x="882.5" y="226.7" width="1.7" height="1.0" fill="#3a3840"/><rect x="896.2" y="236.9" width="1.2" height="0.8" fill="#c8c6cc"/><rect x="865.6" y="233.4" width="1.6" height="1.2" fill="#c8c6cc"/><rect x="872.3" y="246.5" width="1.0" height="0.6" fill="#a8a6ae"/><rect x="878.1" y="226.5" width="0.9" height="0.9" fill="#4a4850"/><rect x="864.1" y="223.2" width="1.3" height="0.9" fill="#4a4850"/><rect x="886.0" y="246.7" width="1.4" height="0.9" fill="#a8a6ae"/><rect x="888.0" y="233.5" width="1.7" height="0.9" fill="#c8c6cc"/><rect x="863.3" y="235.4" width="1.7" height="1.4" fill="#4a4850"/><rect x="875.5" y="239.6" width="1.9" height="1.4" fill="#3a3840"/><rect x="889.1" y="230.4" width="0.8" height="0.7" fill="#c8c6cc"/><rect x="877.1" y="241.1" width="1.5" height="1.0" fill="#c8c6cc"/><rect x="882.8" y="234.4" width="1.2" height="0.7" fill="#c8c6cc"/><rect x="870.1" y="240.0" width="1.4" height="1.2" fill="#3a3840"/><rect x="873.2" y="239.3" width="1.0" height="0.8" fill="#a8a6ae"/><rect x="889.0" y="232.3" width="1.9" height="0.9" fill="#a8a6ae"/><rect x="868.7" y="231.9" width="1.8" height="1.4" fill="#4a4850"/><rect x="876.9" y="236.5" width="1.2" height="0.7" fill="#3a3840"/><path d="M836.8,238.7 L842.4,233.0 L854.8,231.9 L860.4,236.4 L876.1,252.1 L870.5,262.2 L853.7,271.2 L842.4,261.1 L838.0,252.1 Z" fill="#8a8890"/><path d="M842.4,233 L854.8,231.9 L858,240 L850,248 L840,246 Z" fill="#a07a58"/><path d="M848,238 L855,237 L853,244 L847,244 Z" fill="#e0c050"/><path d="M839,248 L846,250 L844,262 L839,254 Z" fill="#6a5048"/><path d="M852,246 L870,250 L872,258 L856,262 L848,256 Z" fill="#d4d8e0"/><path d="M846,262 L868,258 L862,266 L853.7,271.2 Z" fill="#3a3a44"/><rect x="850.4" y="267.7" width="0.8" height="0.7" fill="#b0b0c0"/><rect x="855.3" y="269.0" width="1.8" height="0.9" fill="#8090c0"/><rect x="863.6" y="260.4" width="1.8" height="1.2" fill="#b0b0c0"/><rect x="865.1" y="254.4" width="1.2" height="1.3" fill="#e0e0e8"/><rect x="862.3" y="247.6" width="1.0" height="1.3" fill="#b0b0c0"/><rect x="845.7" y="236.8" width="0.9" height="1.2" fill="#8090c0"/><rect x="840.5" y="253.0" width="1.6" height="0.9" fill="#e0e0e8"/><rect x="855.5" y="238.3" width="0.8" height="1.0" fill="#e0e0e8"/><rect x="843.3" y="242.2" width="1.2" height="1.2" fill="#4a4850"/><rect x="852.1" y="263.5" width="1.9" height="0.7" fill="#8090c0"/><rect x="841.3" y="249.6" width="1.6" height="1.4" fill="#8090c0"/><rect x="858.6" y="257.8" width="1.4" height="1.3" fill="#b0b0c0"/><rect x="855.0" y="257.7" width="1.0" height="1.2" fill="#e0e0e8"/><rect x="858.0" y="263.4" width="1.2" height="1.4" fill="#e0e0e8"/><rect x="850.3" y="234.4" width="1.3" height="1.1" fill="#b0b0c0"/><rect x="849.7" y="263.3" width="1.0" height="0.7" fill="#8090c0"/><rect x="874.8" y="251.2" width="1.9" height="0.7" fill="#4a4850"/><rect x="854.0" y="253.9" width="1.8" height="1.1" fill="#4a4850"/><rect x="857.4" y="265.6" width="1.5" height="0.9" fill="#8090c0"/><rect x="861.0" y="243.5" width="1.0" height="1.1" fill="#b0b0c0"/><rect x="859.5" y="239.2" width="1.4" height="1.1" fill="#8090c0"/><rect x="857.2" y="247.4" width="1.8" height="1.1" fill="#8090c0"/><rect x="839.8" y="237.8" width="1.9" height="1.0" fill="#8090c0"/><rect x="847.0" y="250.4" width="1.0" height="1.0" fill="#8090c0"/><rect x="857.5" y="235.5" width="1.3" height="0.6" fill="#b0b0c0"/><rect x="836.9" y="239.0" width="1.1" height="1.2" fill="#b0b0c0"/><rect x="856.5" y="251.5" width="1.5" height="1.4" fill="#b0b0c0"/><rect x="865.4" y="259.8" width="1.9" height="0.6" fill="#8090c0"/><rect x="869.8" y="256.2" width="1.4" height="1.4" fill="#4a4850"/><rect x="857.7" y="265.9" width="1.5" height="1.4" fill="#4a4850"/><path d="M871.6,252.1 L880.6,249.9 L898.6,253.3 L906.4,262.2 L903.0,276.8 L882.8,279.6 L871.6,272.3 L870.5,261.1 Z" fill="#8c8a92"/><path d="M876,256 L890,254 L894,266 L884,274 L874,268 Z" fill="#c4c8d0"/><path d="M894,254 L906.4,262.2 L903,276.8 L888,278 L896,266 Z" fill="#3a3844"/><rect x="903.8" y="268.5" width="1.2" height="0.8" fill="#9aa8d0"/><rect x="898.8" y="255.0" width="0.9" height="1.4" fill="#4a4850"/><rect x="896.9" y="257.0" width="0.9" height="1.3" fill="#5a5860"/><rect x="890.1" y="270.9" width="1.0" height="1.2" fill="#e8e8f0"/><rect x="873.6" y="266.7" width="1.2" height="1.3" fill="#9aa8d0"/><rect x="874.3" y="264.7" width="1.7" height="1.1" fill="#4a4850"/><rect x="899.7" y="263.9" width="0.8" height="1.3" fill="#5a5860"/><rect x="875.4" y="254.7" width="1.0" height="1.4" fill="#9aa8d0"/><rect x="887.1" y="272.7" width="1.2" height="1.0" fill="#9aa8d0"/><rect x="885.9" y="267.6" width="0.8" height="1.2" fill="#4a4850"/><rect x="876.7" y="263.1" width="1.7" height="1.0" fill="#4a4850"/><rect x="899.3" y="259.0" width="0.9" height="1.4" fill="#5a5860"/><rect x="891.1" y="254.9" width="1.5" height="0.9" fill="#9aa8d0"/><rect x="880.3" y="252.6" width="1.7" height="0.7" fill="#5a5860"/><rect x="874.9" y="259.2" width="1.4" height="0.9" fill="#5a5860"/><rect x="898.3" y="261.6" width="1.7" height="0.7" fill="#9aa8d0"/><rect x="881.2" y="252.1" width="1.9" height="1.5" fill="#e8e8f0"/><rect x="894.6" y="259.5" width="1.6" height="1.1" fill="#e8e8f0"/><rect x="893.8" y="270.7" width="1.7" height="1.5" fill="#e8e8f0"/><rect x="874.2" y="252.3" width="1.1" height="1.0" fill="#e8e8f0"/><rect x="898.2" y="269.1" width="0.8" height="0.8" fill="#9aa8d0"/><rect x="903.5" y="266.1" width="1.4" height="1.5" fill="#e8e8f0"/><rect x="893.6" y="274.1" width="0.9" height="1.1" fill="#e8e8f0"/><rect x="884.3" y="278.1" width="1.3" height="1.5" fill="#5a5860"/><rect x="890.1" y="267.5" width="1.3" height="1.0" fill="#9aa8d0"/><rect x="889.5" y="267.5" width="1.2" height="0.9" fill="#9aa8d0"/><rect x="890.7" y="257.8" width="1.7" height="0.9" fill="#e8e8f0"/><rect x="898.6" y="267.2" width="1.6" height="1.0" fill="#5a5860"/><rect x="872.0" y="258.8" width="1.3" height="1.1" fill="#9aa8d0"/><rect x="885.9" y="263.8" width="2.0" height="0.8" fill="#e8e8f0"/></g>

<!-- 9 coal -->
<g id="img-coal" filter="url(#blur1)">
<path d="M940,273 L946,270 L950,264 L957,262 L962,260 L966,258.5 L972,261 L980,260 L986,264 L990,268 L996,270 L999,276 L1000,283 L1002,288 L998,292 L994,296 L992,302 L986,304 L982,308 L975,310 L970,311 L966,308 L960,306 L952,305 L948,300 L950,295 L947,290 L944,287 L946,282 L941,279 Z" fill="#2e2e36"/>
<path d="M955,268 L966,264 L972,272 L964,280 L954,277 Z" fill="#3e3e48"/>
<path d="M972,275 L984,270 L990,282 L980,290 L970,286 Z" fill="#45454f"/>
<path d="M952,288 L962,284 L966,296 L956,300 Z" fill="#3a3a44"/>
<path d="M975,292 L988,290 L990,300 L978,304 Z" fill="#242430"/>
<path d="M962,262 L972,261 L968,268 Z" fill="#1a1a22"/>
<circle cx="955" cy="278" r="1" fill="#b0b0b8"/>
</g>

<!-- 10 coke -->
<g id="img-coke" filter="url(#blur1)">
<path d="M947,360 L953,358 L957,350 L963,350 L968,344 L974,340 L977,333 L981,331 L987,334 L990,340 L996,344 L995,350 L1001,354 L1004,357 L1008,362 L1014,370 L1012,376 L1004,375 L996,374 L990,377 L982,376 L972,374 L964,373 L956,372 L950,366 Z" fill="#9c9c92"/>
<path d="M956,356 L968,350 L972,360 L962,366 Z" fill="#b2b2a8"/>
<path d="M972,344 L984,338 L988,350 L978,356 Z" fill="#a8a89e"/>
<path d="M983,352 L996,348 L1000,364 L988,370 Z" fill="#8a8a80"/>
<path d="M1000,358 L1010,366 L1004,372 L996,370 Z" fill="#b0b0a6"/>
<path d="M962,366 L978,362 L984,374 L966,373 Z" fill="#7e7e74"/>
<path d="M977,333 L981,331 L987,334 L984,340 L978,340 Z" fill="#86867c"/>
</g>

<!-- 11 water bottle -->
<g id="img-water" filter="url(#blur1)">
<ellipse cx="19.5" cy="188.5" rx="3.5" ry="3" fill="none" stroke="#2a70b8" stroke-width="1.6"/>
<path d="M20,190 L28,190 L29,196 L19,196 Z" fill="#4aa0d8"/>
<path d="M19,196 Q11,201 11,211 L11,242 Q11,246 16,246 L33,246 Q38,246 38,242 L38,211 Q38,201 30,196 Z" fill="url(#gBlue)"/>
<path d="M14,206 Q24,200 35,206" stroke="#8ad0f0" stroke-width="1" fill="none"/>
<path d="M12,234 L37,234 M12,238 L37,238 M12,242 L37,242" stroke="#2a88c0" stroke-width="0.8"/>
<rect x="18" y="213.5" width="14" height="17" fill="#e8eef4"/>
<rect x="19" y="215" width="12" height="3" fill="#c85060" opacity="0.6"/>
<rect x="19.5" y="220" width="10" height="8" fill="#8aa8c8"/>
<rect x="21" y="224" width="5" height="3" fill="#f0f4f8"/>
</g>

<!-- 12 ammonia bottle -->
<g id="img-amm" filter="url(#blur1)">
<rect x="0" y="254" width="64" height="64" fill="#f2f2f2"/>
<rect x="25" y="255.3" width="17.6" height="13" rx="3" fill="#1a1a1a"/>
<rect x="26" y="256" width="4" height="11" fill="#3a3a3a"/>
<path d="M27.5,268 L40.5,268 L40.5,273 Q47.5,275 47.5,283 L47.5,312 Q47.5,315 44.5,315 L22,315 Q19,315 19,312 L19,283 Q19,275 27.5,273 Z" fill="url(#gAmm)"/>
<path d="M24,280 L24,300" stroke="#c08060" stroke-width="1.2"/>
<rect x="19.5" y="291" width="27.5" height="17" fill="#f0e4e8"/>
<rect x="19.5" y="291" width="27.5" height="2.5" fill="#d86a80"/>
<rect x="19.5" y="305.5" width="27.5" height="2.5" fill="#d86a80"/>
<rect x="22" y="295.5" width="6" height="1" fill="#e080a0"/>
<rect x="37" y="295.5" width="8" height="1" fill="#e080a0"/>
<path d="M33,297 L34.5,301 L31,299 L35,299 L31.5,301 Z" fill="none" stroke="#d04060" stroke-width="0.7"/>
<rect x="22" y="302" width="22" height="0.8" fill="#e090a8"/>
</g>

<!-- 13 light bulb -->
<g id="img-bulb" filter="url(#blur1)">
<path d="M29,395 Q28.5,385 22,376 Q16.5,367 17,356 Q19.5,342 38,341.5 Q56.5,342 59,356 Q59.5,367 54,376 Q47.5,385 47,395 Z" fill="#f8f8f8" stroke="#b8b8b8" stroke-width="1.1"/>
<path d="M20,358 Q22,348 32,345" stroke="#ffffff" stroke-width="2" fill="none"/>
<path d="M31,362 L45,362 L40,375 L36,375 Z" fill="none" stroke="#909090" stroke-width="0.9"/>
<rect x="35.5" y="363" width="4" height="6" fill="#a0a0a0"/>
<path d="M37,375 L37,392 M39,375 L39,392" stroke="#a8a8a8" stroke-width="0.8"/>
<path d="M34,392 Q38,388 42,392" stroke="#b0b0b0" stroke-width="0.8" fill="none"/>
<rect x="28.5" y="395" width="19" height="4" fill="#9a9a9a"/>
<path d="M28.5,399 L47.5,399 L47,410 Q38,413 29,410 Z" fill="#6a6a6a"/>
<path d="M28.5,401 L47.5,402 M28.5,404.5 L47.5,405.5 M29,408 L47,409" stroke="#c4c4c4" stroke-width="1.1"/>
<path d="M32,411 L44,411 L41,415.5 L35,415.5 Z" fill="#3a3a3a"/>
</g>

<!-- 14 biodiesel can -->
<g id="img-bio" filter="url(#blur1)">
<defs>
<linearGradient id="gBioF" x1="0" x2="0" y1="0" y2="1"><stop offset="0" stop-color="#3a8ab8"/><stop offset="0.3" stop-color="#7ab0c8"/><stop offset="0.5" stop-color="#9ab890"/><stop offset="0.75" stop-color="#b8b868"/><stop offset="1" stop-color="#8a8048"/></linearGradient>
<linearGradient id="gBioS" x1="0" x2="0" y1="0" y2="1"><stop offset="0" stop-color="#1c4a60"/><stop offset="0.35" stop-color="#2a6a70"/><stop offset="0.55" stop-color="#90a860"/><stop offset="0.8" stop-color="#b0a860"/><stop offset="1" stop-color="#706a40"/></linearGradient>
</defs>
<path d="M17.8,449.6 L34.5,459.1 L34.5,506.1 L21.4,501.3 Z" fill="url(#gBioF)"/>
<path d="M34.5,459.1 L61.8,449 L61.8,493 L57,500 L39.2,506.1 L34.5,506.1 Z" fill="url(#gBioS)"/>
<path d="M17.8,449.6 L44,440.5 L61.8,449 L34.5,459.1 Z" fill="#e4e0ec"/>
<path d="M17.8,449.6 L34.5,459.1 L61.8,449" fill="none" stroke="#a8a8b0" stroke-width="0.8"/>
<ellipse cx="31" cy="452" rx="4.5" ry="2.5" fill="#c8b8dc"/>
<path d="M33.5,447 L36,443 L49,440 L52,445" fill="none" stroke="#202020" stroke-width="2.2"/>
<path d="M20,458 L30,463" stroke="#c8e0f0" stroke-width="2" opacity="0.7"/>
<text x="0" y="0" transform="translate(37.5,473.5) rotate(-27)" textLength="25.5" lengthAdjust="spacingAndGlyphs" style="font-size:7.5px;fill:#ffffff;stroke:none;font-weight:bold">BIODIESEL</text>
</g>

<!-- 15 steel jerrycan -->
<g id="img-steel" filter="url(#blur1)">
<rect x="0" y="559" width="90.6" height="80" fill="#ffffff"/>
<path d="M39,577 L41,566 Q42,563.5 45,563.5 L65,563.5 Q68,564 69,567 L71,577" fill="none" stroke="#8a8a88" stroke-width="2.2"/>
<path d="M43,576 L44,567 L64,567 L66,576 Z" fill="#ffffff"/>
<path d="M22.5,571 L27,566 L35,568 L36,577 L26,579 Z" fill="#9a9a98"/>
<path d="M24,569 L29,567 L33,569 L32,574 L27,575 Z" fill="#c8c8c6"/>
<path d="M21.5,578 Q22,573 27,572.5 L67,572.5 Q71.5,573 71.8,578 L71.8,631 Q71.5,635.5 67,635.5 L26,635.5 Q21.8,635 21.5,631 Z" fill="url(#gSteel)" stroke="#6e6e6c" stroke-width="0.8"/>
<path d="M24,580 Q24,576 28,576 L66,576" stroke="#d8d8d4" stroke-width="1.2" fill="none"/>
<path d="M33,587 L43,601 L52,601 L62,587" fill="none" stroke="#5e5e5c" stroke-width="2.2" stroke-linejoin="round"/>
<path d="M33,622 L43,607 L52,607 L62,622" fill="none" stroke="#5e5e5c" stroke-width="2.2" stroke-linejoin="round"/>
<path d="M34,586 L44,600 L51,600 L61,586" fill="none" stroke="#d4d4d0" stroke-width="0.9"/>
<path d="M34,621 L44,606 L51,606 L61,621" fill="none" stroke="#d4d4d0" stroke-width="0.9"/>
<path d="M43,601 L43,607 M52,601 L52,607" stroke="#8a8a88" stroke-width="1"/>
<path d="M26,590 L26,625" stroke="#b8b8b4" stroke-width="1.5"/>
</g>

<!-- 16 dark jerrycan -->
<g id="img-dark" filter="url(#blur1)">
<rect x="17" y="648" width="55" height="64" fill="#eaeef3"/>
<rect x="17" y="648" width="15" height="64" fill="#f4f6f8"/>
<path d="M25,664 Q25,660 28,657 L34,651 Q36,650 40,650 L54,650 Q57,650 58,653 L60,660 L64,661 Q68,664 68,670 L68.5,704 Q68,708 64,708.4 L29,708.4 Q25,708 24.7,704 Z" fill="#3e4c5e"/>
<path d="M25,664 Q25,660 28,657 L34,651 Q36,650 40,650 L54,650 Q57,650 58,653 L60,662 L25,669 Z" fill="#1c2a24"/>
<path d="M33,656 Q35,653 39,653 L48,653 Q51,653 51,656 L50,660 L33,662 Z" fill="#8a9a98"/>
<rect x="57.3" y="654.5" width="7.5" height="8" rx="2" fill="#b8b0a0"/>
<rect x="57" y="662" width="8" height="4" fill="#1a2420"/>
<path d="M33,676 L42,688 L51,688 L60,676 M33,702 L42,692 L51,692 L60,702" fill="none" stroke="#2c3846" stroke-width="1.6"/>
<path d="M34,675 L43,687 L50,687 L59,675 M34,701 L43,691 L50,691 L59,701" fill="none" stroke="#5a6a7c" stroke-width="0.6"/>
<path d="M28,672 L28,705" stroke="#566478" stroke-width="1.4"/>
</g>

<!-- 17 barrel bottom -->
<g id="img-barrel" filter="url(#blur1)">
<path d="M484.2,686 Q484.2,681 507,681 Q530,681 530,686 L530,757 L484.2,757 Z" fill="url(#gBarrel)"/>
<ellipse cx="507" cy="684.5" rx="22.5" ry="3.2" fill="#0c0c0c"/>
<path d="M485,686 Q507,690 529,686" stroke="#4a4e54" stroke-width="0.8" fill="none"/>
<path d="M484.2,706.5 Q507,709 530,706.5" stroke="#6a7078" stroke-width="1.4" fill="none"/>
<path d="M484.2,708.5 Q507,711 530,708.5" stroke="#0a0a0a" stroke-width="1" fill="none"/>
<path d="M484.2,729.5 Q507,732 530,729.5" stroke="#6a7078" stroke-width="1.4" fill="none"/>
<path d="M484.2,731.5 Q507,734 530,731.5" stroke="#0a0a0a" stroke-width="1" fill="none"/>
</g>

<!-- 18 oil spill -->
<g id="img-spill" filter="url(#blur1)">
<defs><linearGradient id="gSpill" x1="0" y1="0" x2="0.25" y2="1"><stop offset="0" stop-color="#3a3a3e"/><stop offset="0.3" stop-color="#1e1e22"/><stop offset="0.7" stop-color="#2a2a2e"/><stop offset="1" stop-color="#101012"/></linearGradient></defs>
<path d="M840.5,628 Q842,620 852,619 Q858,616 868,615.5 Q885,615 895,620 Q901,625 898,631 Q892,637 875,638 Q860,639 848,636 Q840,633 840.5,628 Z" fill="#0a0a0a"/>
<path d="M878,617 Q892,618 897,624" stroke="#3a3a3c" stroke-width="0.8" fill="none"/>
<path d="M830,584.5 L862,593 L854,622 L830,618 Q821,614 821,601 Q822,586 830,584.5 Z" fill="url(#gSpill)"/>
<path d="M836,586 L834,619 M846,589 L843,621" stroke="#141416" stroke-width="1" fill="none"/>
<ellipse cx="862.8" cy="607.6" rx="10.6" ry="14.5" fill="#050505" transform="rotate(-12 862.8 607.6)"/>
<path d="M855,612 L871,612 L873,630 L852,630 Z" fill="#050505"/>
</g>

</svg>
</body></html>
